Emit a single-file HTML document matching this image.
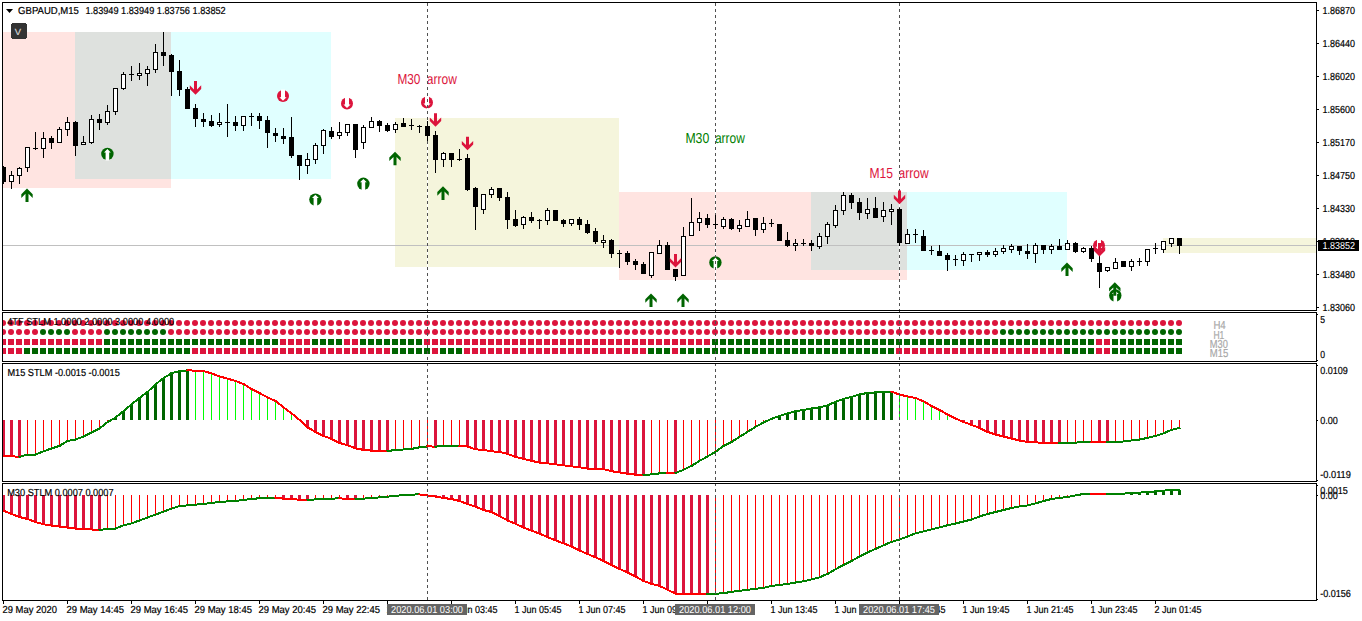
<!DOCTYPE html>
<html><head><meta charset="utf-8"><style>
html,body{margin:0;padding:0;background:#fff;width:1362px;height:621px;overflow:hidden}
svg{display:block}
text{font-family:"Liberation Sans", sans-serif;text-rendering:geometricPrecision}
rect,line{shape-rendering:crispEdges}
</style></head><body>
<svg width="1362" height="621" viewBox="0 0 1362 621" font-family='"Liberation Sans", sans-serif'><defs><clipPath id="mc"><rect x="3" y="3" width="1313" height="307"/></clipPath></defs>
<g clip-path="url(#mc)">
<rect x="3" y="32" width="168" height="156" fill="#FFE4E1"/>
<rect x="75" y="32" width="96" height="147" fill="#DEE1DE"/>
<rect x="171" y="32" width="160" height="147" fill="#E0FFFF"/>
<rect x="395" y="118" width="224" height="149" fill="#F5F5DC"/>
<rect x="619" y="192" width="288" height="88" fill="#FFE4E1"/>
<rect x="811" y="192" width="96" height="78" fill="#DEE1DE"/>
<rect x="907" y="192" width="160" height="78" fill="#E0FFFF"/>
<rect x="1163" y="238" width="153" height="15" fill="#F5F5DC"/>
<rect x="3" y="245" width="1313" height="1" fill="#C0C0C0"/>
<text x="397.40" y="84" font-size="14.5" fill="#DC143C" textLength="23.00" lengthAdjust="spacingAndGlyphs">M30</text>
<text x="426.80" y="84" font-size="14.5" fill="#DC143C" textLength="30.07" lengthAdjust="spacingAndGlyphs">arrow</text>
<text x="685.40" y="143" font-size="14.5" fill="#008000" textLength="23.90" lengthAdjust="spacingAndGlyphs">M30</text>
<text x="714.90" y="143" font-size="14.5" fill="#008000" textLength="29.97" lengthAdjust="spacingAndGlyphs">arrow</text>
<text x="869.50" y="178" font-size="14.5" fill="#DC143C" textLength="23.50" lengthAdjust="spacingAndGlyphs">M15</text>
<text x="898.60" y="178" font-size="14.5" fill="#DC143C" textLength="30.17" lengthAdjust="spacingAndGlyphs">arrow</text>
<circle cx="107.4" cy="153.9" r="6.2" fill="#006400" shape-rendering="auto"/>
<polygon points="107.4,149.1 110.8,152.4 109.2,152.4 109.2,160.5 105.6,160.5 105.6,152.4 104.0,152.4" fill="#fff" shape-rendering="auto"/>
<circle cx="315.4" cy="199.6" r="6.2" fill="#006400" shape-rendering="auto"/>
<polygon points="315.4,194.8 318.8,198.1 317.2,198.1 317.2,206.2 313.6,206.2 313.6,198.1 312.0,198.1" fill="#fff" shape-rendering="auto"/>
<circle cx="363.4" cy="183.8" r="6.2" fill="#006400" shape-rendering="auto"/>
<polygon points="363.4,179.0 366.8,182.3 365.2,182.3 365.2,190.4 361.6,190.4 361.6,182.3 360.0,182.3" fill="#fff" shape-rendering="auto"/>
<circle cx="715.4" cy="262.5" r="6.2" fill="#006400" shape-rendering="auto"/>
<polygon points="715.4,257.7 718.8,261.0 717.2,261.0 717.2,269.1 713.6,269.1 713.6,261.0 712.0,261.0" fill="#fff" shape-rendering="auto"/>
<circle cx="283.0" cy="96.1" r="6.0" fill="#DC143C" shape-rendering="auto"/>
<polygon points="283.0,100.8 286.6,97.3 285.0,97.3 285.0,89.6 281.0,89.6 281.0,97.3 279.4,97.3" fill="#fff" shape-rendering="auto"/>
<circle cx="347.0" cy="103.4" r="6.0" fill="#DC143C" shape-rendering="auto"/>
<polygon points="347.0,108.1 350.6,104.6 349.0,104.6 349.0,96.9 345.0,96.9 345.0,104.6 343.4,104.6" fill="#fff" shape-rendering="auto"/>
<circle cx="427.0" cy="102.4" r="6.0" fill="#DC143C" shape-rendering="auto"/>
<polygon points="427.0,107.1 430.6,103.6 429.0,103.6 429.0,95.9 425.0,95.9 425.0,103.6 423.4,103.6" fill="#fff" shape-rendering="auto"/>
<rect x="427" y="3" width="1" height="307" fill="#fff"/>
<line x1="427.5" y1="3" x2="427.5" y2="310" stroke="#505050" stroke-width="1" stroke-dasharray="3 3"/>
<rect x="715" y="3" width="1" height="307" fill="#fff"/>
<line x1="715.5" y1="3" x2="715.5" y2="310" stroke="#505050" stroke-width="1" stroke-dasharray="3 3"/>
<rect x="899" y="3" width="1" height="307" fill="#fff"/>
<line x1="899.5" y1="3" x2="899.5" y2="310" stroke="#505050" stroke-width="1" stroke-dasharray="3 3"/>
<rect x="3" y="166" width="1" height="18" fill="#000"/>
<rect x="1" y="167" width="5" height="15" fill="#000"/>
<rect x="11" y="171" width="1" height="18" fill="#000"/>
<rect x="9" y="175" width="5" height="7" fill="#000"/>
<rect x="10" y="176" width="3" height="5" fill="#fff"/>
<rect x="19" y="167" width="1" height="17" fill="#000"/>
<rect x="17" y="168" width="5" height="8" fill="#000"/>
<rect x="18" y="169" width="3" height="6" fill="#fff"/>
<rect x="27" y="147" width="1" height="25" fill="#000"/>
<rect x="25" y="147" width="5" height="21" fill="#000"/>
<rect x="26" y="148" width="3" height="19" fill="#fff"/>
<rect x="35" y="132" width="1" height="18" fill="#000"/>
<rect x="33" y="148" width="5" height="1" fill="#000"/>
<rect x="43" y="132" width="1" height="26" fill="#000"/>
<rect x="41" y="138" width="5" height="11" fill="#000"/>
<rect x="42" y="139" width="3" height="9" fill="#fff"/>
<rect x="51" y="136" width="1" height="13" fill="#000"/>
<rect x="49" y="138" width="5" height="5" fill="#000"/>
<rect x="59" y="127" width="1" height="16" fill="#000"/>
<rect x="57" y="129" width="5" height="14" fill="#000"/>
<rect x="58" y="130" width="3" height="12" fill="#fff"/>
<rect x="67" y="117" width="1" height="19" fill="#000"/>
<rect x="65" y="122" width="5" height="8" fill="#000"/>
<rect x="66" y="123" width="3" height="6" fill="#fff"/>
<rect x="75" y="121" width="1" height="35" fill="#000"/>
<rect x="73" y="122" width="5" height="24" fill="#000"/>
<rect x="83" y="136" width="1" height="9" fill="#000"/>
<rect x="81" y="142" width="5" height="3" fill="#000"/>
<rect x="82" y="143" width="3" height="1" fill="#fff"/>
<rect x="91" y="115" width="1" height="29" fill="#000"/>
<rect x="89" y="119" width="5" height="24" fill="#000"/>
<rect x="90" y="120" width="3" height="22" fill="#fff"/>
<rect x="99" y="114" width="1" height="16" fill="#000"/>
<rect x="97" y="119" width="5" height="4" fill="#000"/>
<rect x="107" y="105" width="1" height="20" fill="#000"/>
<rect x="105" y="111" width="5" height="12" fill="#000"/>
<rect x="106" y="112" width="3" height="10" fill="#fff"/>
<rect x="115" y="88" width="1" height="27" fill="#000"/>
<rect x="113" y="88" width="5" height="24" fill="#000"/>
<rect x="114" y="89" width="3" height="22" fill="#fff"/>
<rect x="123" y="72" width="1" height="18" fill="#000"/>
<rect x="121" y="74" width="5" height="15" fill="#000"/>
<rect x="122" y="75" width="3" height="13" fill="#fff"/>
<rect x="131" y="66" width="1" height="15" fill="#000"/>
<rect x="129" y="74" width="5" height="1" fill="#000"/>
<rect x="139" y="63" width="1" height="17" fill="#000"/>
<rect x="137" y="73" width="5" height="3" fill="#000"/>
<rect x="138" y="74" width="3" height="1" fill="#fff"/>
<rect x="147" y="66" width="1" height="20" fill="#000"/>
<rect x="145" y="69" width="5" height="5" fill="#000"/>
<rect x="146" y="70" width="3" height="3" fill="#fff"/>
<rect x="155" y="44" width="1" height="29" fill="#000"/>
<rect x="153" y="52" width="5" height="18" fill="#000"/>
<rect x="154" y="53" width="3" height="16" fill="#fff"/>
<rect x="163" y="32" width="1" height="34" fill="#000"/>
<rect x="161" y="52" width="5" height="4" fill="#000"/>
<rect x="171" y="54" width="1" height="42" fill="#000"/>
<rect x="169" y="55" width="5" height="17" fill="#000"/>
<rect x="179" y="60" width="1" height="36" fill="#000"/>
<rect x="177" y="71" width="5" height="19" fill="#000"/>
<rect x="187" y="87" width="1" height="22" fill="#000"/>
<rect x="185" y="89" width="5" height="20" fill="#000"/>
<rect x="195" y="104" width="1" height="23" fill="#000"/>
<rect x="193" y="108" width="5" height="11" fill="#000"/>
<rect x="203" y="113" width="1" height="14" fill="#000"/>
<rect x="201" y="119" width="5" height="3" fill="#000"/>
<rect x="211" y="115" width="1" height="12" fill="#000"/>
<rect x="209" y="121" width="5" height="5" fill="#000"/>
<rect x="219" y="113" width="1" height="14" fill="#000"/>
<rect x="217" y="122" width="5" height="3" fill="#000"/>
<rect x="218" y="123" width="3" height="1" fill="#fff"/>
<rect x="227" y="104" width="1" height="33" fill="#000"/>
<rect x="225" y="122" width="5" height="1" fill="#000"/>
<rect x="235" y="116" width="1" height="15" fill="#000"/>
<rect x="233" y="122" width="5" height="4" fill="#000"/>
<rect x="243" y="116" width="1" height="15" fill="#000"/>
<rect x="241" y="116" width="5" height="10" fill="#000"/>
<rect x="242" y="117" width="3" height="8" fill="#fff"/>
<rect x="251" y="113" width="1" height="13" fill="#000"/>
<rect x="249" y="116" width="5" height="1" fill="#000"/>
<rect x="259" y="113" width="1" height="16" fill="#000"/>
<rect x="257" y="116" width="5" height="5" fill="#000"/>
<rect x="267" y="116" width="1" height="32" fill="#000"/>
<rect x="265" y="120" width="5" height="13" fill="#000"/>
<rect x="275" y="128" width="1" height="14" fill="#000"/>
<rect x="273" y="133" width="5" height="3" fill="#000"/>
<rect x="283" y="128" width="1" height="16" fill="#000"/>
<rect x="281" y="136" width="5" height="3" fill="#000"/>
<rect x="291" y="117" width="1" height="41" fill="#000"/>
<rect x="289" y="137" width="5" height="19" fill="#000"/>
<rect x="299" y="155" width="1" height="25" fill="#000"/>
<rect x="297" y="155" width="5" height="11" fill="#000"/>
<rect x="307" y="153" width="1" height="21" fill="#000"/>
<rect x="305" y="159" width="5" height="7" fill="#000"/>
<rect x="306" y="160" width="3" height="5" fill="#fff"/>
<rect x="315" y="143" width="1" height="21" fill="#000"/>
<rect x="313" y="145" width="5" height="15" fill="#000"/>
<rect x="314" y="146" width="3" height="13" fill="#fff"/>
<rect x="323" y="129" width="1" height="25" fill="#000"/>
<rect x="321" y="130" width="5" height="16" fill="#000"/>
<rect x="322" y="131" width="3" height="14" fill="#fff"/>
<rect x="331" y="127" width="1" height="12" fill="#000"/>
<rect x="329" y="131" width="5" height="6" fill="#000"/>
<rect x="339" y="122" width="1" height="17" fill="#000"/>
<rect x="337" y="132" width="5" height="4" fill="#000"/>
<rect x="338" y="133" width="3" height="2" fill="#fff"/>
<rect x="347" y="124" width="1" height="12" fill="#000"/>
<rect x="345" y="124" width="5" height="9" fill="#000"/>
<rect x="346" y="125" width="3" height="7" fill="#fff"/>
<rect x="355" y="124" width="1" height="34" fill="#000"/>
<rect x="353" y="124" width="5" height="26" fill="#000"/>
<rect x="363" y="125" width="1" height="24" fill="#000"/>
<rect x="361" y="127" width="5" height="16" fill="#000"/>
<rect x="362" y="128" width="3" height="14" fill="#fff"/>
<rect x="371" y="117" width="1" height="11" fill="#000"/>
<rect x="369" y="121" width="5" height="7" fill="#000"/>
<rect x="370" y="122" width="3" height="5" fill="#fff"/>
<rect x="379" y="120" width="1" height="12" fill="#000"/>
<rect x="377" y="121" width="5" height="5" fill="#000"/>
<rect x="387" y="123" width="1" height="9" fill="#000"/>
<rect x="385" y="125" width="5" height="6" fill="#000"/>
<rect x="395" y="122" width="1" height="11" fill="#000"/>
<rect x="393" y="124" width="5" height="6" fill="#000"/>
<rect x="394" y="125" width="3" height="4" fill="#fff"/>
<rect x="403" y="118" width="1" height="9" fill="#000"/>
<rect x="401" y="123" width="5" height="4" fill="#000"/>
<rect x="411" y="119" width="1" height="11" fill="#000"/>
<rect x="409" y="125" width="5" height="1" fill="#000"/>
<rect x="419" y="125" width="1" height="8" fill="#000"/>
<rect x="417" y="126" width="5" height="1" fill="#000"/>
<rect x="427" y="121" width="1" height="20" fill="#000"/>
<rect x="425" y="126" width="5" height="10" fill="#000"/>
<rect x="435" y="131" width="1" height="42" fill="#000"/>
<rect x="433" y="135" width="5" height="25" fill="#000"/>
<rect x="443" y="152" width="1" height="15" fill="#000"/>
<rect x="441" y="153" width="5" height="7" fill="#000"/>
<rect x="442" y="154" width="3" height="5" fill="#fff"/>
<rect x="451" y="153" width="1" height="14" fill="#000"/>
<rect x="449" y="153" width="5" height="7" fill="#000"/>
<rect x="459" y="149" width="1" height="12" fill="#000"/>
<rect x="457" y="159" width="5" height="1" fill="#000"/>
<rect x="467" y="154" width="1" height="37" fill="#000"/>
<rect x="465" y="158" width="5" height="32" fill="#000"/>
<rect x="475" y="187" width="1" height="43" fill="#000"/>
<rect x="473" y="188" width="5" height="19" fill="#000"/>
<rect x="483" y="194" width="1" height="20" fill="#000"/>
<rect x="481" y="194" width="5" height="16" fill="#000"/>
<rect x="482" y="195" width="3" height="14" fill="#fff"/>
<rect x="491" y="187" width="1" height="11" fill="#000"/>
<rect x="489" y="189" width="5" height="6" fill="#000"/>
<rect x="490" y="190" width="3" height="4" fill="#fff"/>
<rect x="499" y="188" width="1" height="13" fill="#000"/>
<rect x="497" y="188" width="5" height="10" fill="#000"/>
<rect x="507" y="192" width="1" height="37" fill="#000"/>
<rect x="505" y="197" width="5" height="23" fill="#000"/>
<rect x="515" y="210" width="1" height="17" fill="#000"/>
<rect x="513" y="219" width="5" height="7" fill="#000"/>
<rect x="523" y="216" width="1" height="13" fill="#000"/>
<rect x="521" y="217" width="5" height="8" fill="#000"/>
<rect x="522" y="218" width="3" height="6" fill="#fff"/>
<rect x="531" y="212" width="1" height="11" fill="#000"/>
<rect x="529" y="217" width="5" height="4" fill="#000"/>
<rect x="539" y="219" width="1" height="10" fill="#000"/>
<rect x="537" y="220" width="5" height="1" fill="#000"/>
<rect x="547" y="208" width="1" height="17" fill="#000"/>
<rect x="545" y="210" width="5" height="11" fill="#000"/>
<rect x="546" y="211" width="3" height="9" fill="#fff"/>
<rect x="555" y="210" width="1" height="11" fill="#000"/>
<rect x="553" y="210" width="5" height="11" fill="#000"/>
<rect x="563" y="219" width="1" height="8" fill="#000"/>
<rect x="561" y="220" width="5" height="4" fill="#000"/>
<rect x="571" y="219" width="1" height="7" fill="#000"/>
<rect x="569" y="219" width="5" height="5" fill="#000"/>
<rect x="570" y="220" width="3" height="3" fill="#fff"/>
<rect x="579" y="217" width="1" height="13" fill="#000"/>
<rect x="577" y="219" width="5" height="6" fill="#000"/>
<rect x="587" y="220" width="1" height="14" fill="#000"/>
<rect x="585" y="224" width="5" height="9" fill="#000"/>
<rect x="595" y="228" width="1" height="16" fill="#000"/>
<rect x="593" y="231" width="5" height="11" fill="#000"/>
<rect x="603" y="235" width="1" height="13" fill="#000"/>
<rect x="601" y="240" width="5" height="3" fill="#000"/>
<rect x="602" y="241" width="3" height="1" fill="#fff"/>
<rect x="611" y="239" width="1" height="19" fill="#000"/>
<rect x="609" y="240" width="5" height="14" fill="#000"/>
<rect x="619" y="250" width="1" height="18" fill="#000"/>
<rect x="617" y="253" width="5" height="1" fill="#000"/>
<rect x="627" y="251" width="1" height="14" fill="#000"/>
<rect x="625" y="253" width="5" height="9" fill="#000"/>
<rect x="635" y="259" width="1" height="11" fill="#000"/>
<rect x="633" y="261" width="5" height="4" fill="#000"/>
<rect x="643" y="262" width="1" height="12" fill="#000"/>
<rect x="641" y="264" width="5" height="10" fill="#000"/>
<rect x="651" y="252" width="1" height="26" fill="#000"/>
<rect x="649" y="252" width="5" height="24" fill="#000"/>
<rect x="650" y="253" width="3" height="22" fill="#fff"/>
<rect x="659" y="240" width="1" height="14" fill="#000"/>
<rect x="657" y="245" width="5" height="9" fill="#000"/>
<rect x="658" y="246" width="3" height="7" fill="#fff"/>
<rect x="667" y="242" width="1" height="28" fill="#000"/>
<rect x="665" y="245" width="5" height="25" fill="#000"/>
<rect x="675" y="269" width="1" height="12" fill="#000"/>
<rect x="673" y="269" width="5" height="8" fill="#000"/>
<rect x="683" y="227" width="1" height="49" fill="#000"/>
<rect x="681" y="236" width="5" height="40" fill="#000"/>
<rect x="682" y="237" width="3" height="38" fill="#fff"/>
<rect x="691" y="198" width="1" height="38" fill="#000"/>
<rect x="689" y="222" width="5" height="14" fill="#000"/>
<rect x="690" y="223" width="3" height="12" fill="#fff"/>
<rect x="699" y="212" width="1" height="19" fill="#000"/>
<rect x="697" y="218" width="5" height="5" fill="#000"/>
<rect x="698" y="219" width="3" height="3" fill="#fff"/>
<rect x="707" y="214" width="1" height="14" fill="#000"/>
<rect x="705" y="218" width="5" height="7" fill="#000"/>
<rect x="715" y="215" width="1" height="14" fill="#000"/>
<rect x="713" y="224" width="5" height="1" fill="#000"/>
<rect x="723" y="217" width="1" height="12" fill="#000"/>
<rect x="721" y="219" width="5" height="8" fill="#000"/>
<rect x="722" y="220" width="3" height="6" fill="#fff"/>
<rect x="731" y="218" width="1" height="12" fill="#000"/>
<rect x="729" y="219" width="5" height="10" fill="#000"/>
<rect x="739" y="220" width="1" height="12" fill="#000"/>
<rect x="737" y="225" width="5" height="4" fill="#000"/>
<rect x="738" y="226" width="3" height="2" fill="#fff"/>
<rect x="747" y="211" width="1" height="16" fill="#000"/>
<rect x="745" y="219" width="5" height="8" fill="#000"/>
<rect x="746" y="220" width="3" height="6" fill="#fff"/>
<rect x="755" y="218" width="1" height="18" fill="#000"/>
<rect x="753" y="218" width="5" height="12" fill="#000"/>
<rect x="763" y="217" width="1" height="16" fill="#000"/>
<rect x="761" y="223" width="5" height="7" fill="#000"/>
<rect x="762" y="224" width="3" height="5" fill="#fff"/>
<rect x="771" y="219" width="1" height="8" fill="#000"/>
<rect x="769" y="223" width="5" height="1" fill="#000"/>
<rect x="779" y="224" width="1" height="17" fill="#000"/>
<rect x="777" y="224" width="5" height="17" fill="#000"/>
<rect x="787" y="232" width="1" height="15" fill="#000"/>
<rect x="785" y="240" width="5" height="6" fill="#000"/>
<rect x="795" y="239" width="1" height="12" fill="#000"/>
<rect x="793" y="243" width="5" height="3" fill="#000"/>
<rect x="794" y="244" width="3" height="1" fill="#fff"/>
<rect x="803" y="239" width="1" height="7" fill="#000"/>
<rect x="801" y="243" width="5" height="1" fill="#000"/>
<rect x="811" y="240" width="1" height="11" fill="#000"/>
<rect x="809" y="243" width="5" height="3" fill="#000"/>
<rect x="819" y="233" width="1" height="16" fill="#000"/>
<rect x="817" y="236" width="5" height="11" fill="#000"/>
<rect x="818" y="237" width="3" height="9" fill="#fff"/>
<rect x="827" y="222" width="1" height="22" fill="#000"/>
<rect x="825" y="224" width="5" height="13" fill="#000"/>
<rect x="826" y="225" width="3" height="11" fill="#fff"/>
<rect x="835" y="205" width="1" height="23" fill="#000"/>
<rect x="833" y="210" width="5" height="16" fill="#000"/>
<rect x="834" y="211" width="3" height="14" fill="#fff"/>
<rect x="843" y="192" width="1" height="23" fill="#000"/>
<rect x="841" y="195" width="5" height="16" fill="#000"/>
<rect x="842" y="196" width="3" height="14" fill="#fff"/>
<rect x="851" y="193" width="1" height="16" fill="#000"/>
<rect x="849" y="195" width="5" height="8" fill="#000"/>
<rect x="859" y="198" width="1" height="22" fill="#000"/>
<rect x="857" y="202" width="5" height="11" fill="#000"/>
<rect x="867" y="198" width="1" height="21" fill="#000"/>
<rect x="865" y="209" width="5" height="5" fill="#000"/>
<rect x="866" y="210" width="3" height="3" fill="#fff"/>
<rect x="875" y="197" width="1" height="21" fill="#000"/>
<rect x="873" y="208" width="5" height="10" fill="#000"/>
<rect x="883" y="202" width="1" height="20" fill="#000"/>
<rect x="881" y="210" width="5" height="7" fill="#000"/>
<rect x="882" y="211" width="3" height="5" fill="#fff"/>
<rect x="891" y="204" width="1" height="21" fill="#000"/>
<rect x="889" y="209" width="5" height="3" fill="#000"/>
<rect x="890" y="210" width="3" height="1" fill="#fff"/>
<rect x="899" y="208" width="1" height="38" fill="#000"/>
<rect x="897" y="209" width="5" height="34" fill="#000"/>
<rect x="907" y="229" width="1" height="15" fill="#000"/>
<rect x="905" y="234" width="5" height="10" fill="#000"/>
<rect x="906" y="235" width="3" height="8" fill="#fff"/>
<rect x="915" y="229" width="1" height="14" fill="#000"/>
<rect x="913" y="234" width="5" height="1" fill="#000"/>
<rect x="923" y="230" width="1" height="21" fill="#000"/>
<rect x="921" y="236" width="5" height="15" fill="#000"/>
<rect x="931" y="246" width="1" height="9" fill="#000"/>
<rect x="929" y="250" width="5" height="1" fill="#000"/>
<rect x="939" y="245" width="1" height="11" fill="#000"/>
<rect x="937" y="251" width="5" height="5" fill="#000"/>
<rect x="947" y="253" width="1" height="18" fill="#000"/>
<rect x="945" y="255" width="5" height="5" fill="#000"/>
<rect x="955" y="255" width="1" height="11" fill="#000"/>
<rect x="953" y="259" width="5" height="1" fill="#000"/>
<rect x="963" y="252" width="1" height="14" fill="#000"/>
<rect x="961" y="254" width="5" height="7" fill="#000"/>
<rect x="962" y="255" width="3" height="5" fill="#fff"/>
<rect x="971" y="254" width="1" height="8" fill="#000"/>
<rect x="969" y="254" width="5" height="1" fill="#000"/>
<rect x="979" y="252" width="1" height="9" fill="#000"/>
<rect x="977" y="252" width="5" height="3" fill="#000"/>
<rect x="978" y="253" width="3" height="1" fill="#fff"/>
<rect x="987" y="250" width="1" height="7" fill="#000"/>
<rect x="985" y="252" width="5" height="3" fill="#000"/>
<rect x="995" y="248" width="1" height="9" fill="#000"/>
<rect x="993" y="251" width="5" height="4" fill="#000"/>
<rect x="994" y="252" width="3" height="2" fill="#fff"/>
<rect x="1003" y="245" width="1" height="9" fill="#000"/>
<rect x="1001" y="248" width="5" height="4" fill="#000"/>
<rect x="1002" y="249" width="3" height="2" fill="#fff"/>
<rect x="1011" y="244" width="1" height="9" fill="#000"/>
<rect x="1009" y="246" width="5" height="4" fill="#000"/>
<rect x="1010" y="247" width="3" height="2" fill="#fff"/>
<rect x="1019" y="246" width="1" height="9" fill="#000"/>
<rect x="1017" y="246" width="5" height="5" fill="#000"/>
<rect x="1027" y="244" width="1" height="15" fill="#000"/>
<rect x="1025" y="251" width="5" height="3" fill="#000"/>
<rect x="1035" y="243" width="1" height="20" fill="#000"/>
<rect x="1033" y="245" width="5" height="9" fill="#000"/>
<rect x="1034" y="246" width="3" height="7" fill="#fff"/>
<rect x="1043" y="245" width="1" height="9" fill="#000"/>
<rect x="1041" y="245" width="5" height="5" fill="#000"/>
<rect x="1051" y="244" width="1" height="10" fill="#000"/>
<rect x="1049" y="246" width="5" height="4" fill="#000"/>
<rect x="1050" y="247" width="3" height="2" fill="#fff"/>
<rect x="1059" y="239" width="1" height="11" fill="#000"/>
<rect x="1057" y="246" width="5" height="4" fill="#000"/>
<rect x="1067" y="240" width="1" height="10" fill="#000"/>
<rect x="1065" y="243" width="5" height="7" fill="#000"/>
<rect x="1066" y="244" width="3" height="5" fill="#fff"/>
<rect x="1075" y="242" width="1" height="11" fill="#000"/>
<rect x="1073" y="243" width="5" height="9" fill="#000"/>
<rect x="1083" y="247" width="1" height="6" fill="#000"/>
<rect x="1081" y="248" width="5" height="4" fill="#000"/>
<rect x="1082" y="249" width="3" height="2" fill="#fff"/>
<rect x="1091" y="246" width="1" height="16" fill="#000"/>
<rect x="1089" y="248" width="5" height="11" fill="#000"/>
<rect x="1099" y="255" width="1" height="33" fill="#000"/>
<rect x="1097" y="263" width="5" height="9" fill="#000"/>
<rect x="1107" y="267" width="1" height="5" fill="#000"/>
<rect x="1105" y="267" width="5" height="4" fill="#000"/>
<rect x="1106" y="268" width="3" height="2" fill="#fff"/>
<rect x="1115" y="258" width="1" height="11" fill="#000"/>
<rect x="1113" y="262" width="5" height="7" fill="#000"/>
<rect x="1114" y="263" width="3" height="5" fill="#fff"/>
<rect x="1123" y="261" width="1" height="6" fill="#000"/>
<rect x="1121" y="261" width="5" height="6" fill="#000"/>
<rect x="1131" y="259" width="1" height="12" fill="#000"/>
<rect x="1129" y="261" width="5" height="6" fill="#000"/>
<rect x="1130" y="262" width="3" height="4" fill="#fff"/>
<rect x="1139" y="258" width="1" height="8" fill="#000"/>
<rect x="1137" y="261" width="5" height="1" fill="#000"/>
<rect x="1147" y="249" width="1" height="17" fill="#000"/>
<rect x="1145" y="249" width="5" height="13" fill="#000"/>
<rect x="1146" y="250" width="3" height="11" fill="#fff"/>
<rect x="1155" y="243" width="1" height="11" fill="#000"/>
<rect x="1153" y="248" width="5" height="1" fill="#000"/>
<rect x="1163" y="241" width="1" height="12" fill="#000"/>
<rect x="1161" y="241" width="5" height="9" fill="#000"/>
<rect x="1162" y="242" width="3" height="7" fill="#fff"/>
<rect x="1171" y="238" width="1" height="9" fill="#000"/>
<rect x="1169" y="238" width="5" height="6" fill="#000"/>
<rect x="1170" y="239" width="3" height="4" fill="#fff"/>
<rect x="1179" y="238" width="1" height="16" fill="#000"/>
<rect x="1177" y="238" width="5" height="8" fill="#000"/>
<polygon points="27.0,188.5 32.7,194.3 32.7,197.9 28.5,193.7 28.5,202.1 25.5,202.1 25.5,193.7 21.3,197.9 21.3,194.3" fill="#006400" shape-rendering="auto"/>
<polygon points="395.0,151.7 400.7,157.5 400.7,161.1 396.5,156.9 396.5,165.3 393.5,165.3 393.5,156.9 389.3,161.1 389.3,157.5" fill="#006400" shape-rendering="auto"/>
<polygon points="443.0,186.3 448.7,192.1 448.7,195.7 444.5,191.5 444.5,199.9 441.5,199.9 441.5,191.5 437.3,195.7 437.3,192.1" fill="#006400" shape-rendering="auto"/>
<polygon points="651.0,293.4 656.7,299.2 656.7,302.8 652.5,298.6 652.5,307.0 649.5,307.0 649.5,298.6 645.3,302.8 645.3,299.2" fill="#006400" shape-rendering="auto"/>
<polygon points="683.0,293.4 688.7,299.2 688.7,302.8 684.5,298.6 684.5,307.0 681.5,307.0 681.5,298.6 677.3,302.8 677.3,299.2" fill="#006400" shape-rendering="auto"/>
<polygon points="1067.0,262.5 1072.7,268.3 1072.7,271.9 1068.5,267.7 1068.5,276.1 1065.5,276.1 1065.5,267.7 1061.3,271.9 1061.3,268.3" fill="#006400" shape-rendering="auto"/>
<circle cx="1115.3" cy="295.5" r="6.2" fill="#006400" shape-rendering="auto"/>
<polygon points="1115.3,290.7 1118.7,294.0 1117.1,294.0 1117.1,302.1 1113.5,302.1 1113.5,294.0 1111.9,294.0" fill="#fff" shape-rendering="auto"/>
<polygon points="1114.8,282.2 1120.5,288.0 1120.5,291.6 1116.3,287.4 1116.3,295.8 1113.3,295.8 1113.3,287.4 1109.1,291.6 1109.1,288.0" fill="#006400" shape-rendering="auto"/>
<circle cx="1099" cy="245.5" r="6.0" fill="#DC143C" shape-rendering="auto"/>
<polygon points="1099.0,250.2 1102.6,246.7 1101.0,246.7 1101.0,239.0 1097.0,239.0 1097.0,246.7 1095.4,246.7" fill="#fff" shape-rendering="auto"/>
<polygon points="195.5,94.7 201.2,88.9 201.2,85.3 197.0,89.5 197.0,81.1 194.0,81.1 194.0,89.5 189.8,85.3 189.8,88.9" fill="#DC143C" shape-rendering="auto"/>
<polygon points="435.5,126.8 441.2,121.0 441.2,117.4 437.0,121.6 437.0,113.2 434.0,113.2 434.0,121.6 429.8,117.4 429.8,121.0" fill="#DC143C" shape-rendering="auto"/>
<polygon points="467.5,150.3 473.2,144.5 473.2,140.9 469.0,145.1 469.0,136.7 466.0,136.7 466.0,145.1 461.8,140.9 461.8,144.5" fill="#DC143C" shape-rendering="auto"/>
<polygon points="675.5,267.5 681.2,261.7 681.2,258.1 677.0,262.3 677.0,253.9 674.0,253.9 674.0,262.3 669.8,258.1 669.8,261.7" fill="#DC143C" shape-rendering="auto"/>
<polygon points="899.5,204.2 905.2,198.4 905.2,194.8 901.0,199.0 901.0,190.6 898.0,190.6 898.0,199.0 893.8,194.8 893.8,198.4" fill="#DC143C" shape-rendering="auto"/>
<polygon points="1099.5,256.5 1105.2,250.7 1105.2,247.1 1101.0,251.3 1101.0,242.9 1098.0,242.9 1098.0,251.3 1093.8,247.1 1093.8,250.7" fill="#DC143C" shape-rendering="auto"/>
</g>
<defs><clipPath id="c1"><rect x="3" y="313" width="1313" height="48"/></clipPath><clipPath id="c2"><rect x="3" y="364" width="1313" height="117"/></clipPath><clipPath id="c3"><rect x="3" y="484" width="1313" height="116"/></clipPath><clipPath id="sub"><rect x="0" y="311" width="1362" height="290"/></clipPath></defs>
<g clip-path="url(#c1)">
<circle cx="3" cy="323" r="3" fill="#DC143C"/>
<circle cx="11" cy="323" r="3" fill="#DC143C"/>
<circle cx="19" cy="323" r="3" fill="#DC143C"/>
<circle cx="27" cy="323" r="3" fill="#DC143C"/>
<circle cx="35" cy="323" r="3" fill="#DC143C"/>
<circle cx="43" cy="323" r="3" fill="#DC143C"/>
<circle cx="51" cy="323" r="3" fill="#DC143C"/>
<circle cx="59" cy="323" r="3" fill="#DC143C"/>
<circle cx="67" cy="323" r="3" fill="#DC143C"/>
<circle cx="75" cy="323" r="3" fill="#DC143C"/>
<circle cx="83" cy="323" r="3" fill="#DC143C"/>
<circle cx="91" cy="323" r="3" fill="#DC143C"/>
<circle cx="99" cy="323" r="3" fill="#DC143C"/>
<circle cx="107" cy="323" r="3" fill="#DC143C"/>
<circle cx="115" cy="323" r="3" fill="#DC143C"/>
<circle cx="123" cy="323" r="3" fill="#DC143C"/>
<circle cx="131" cy="323" r="3" fill="#DC143C"/>
<circle cx="139" cy="323" r="3" fill="#DC143C"/>
<circle cx="147" cy="323" r="3" fill="#DC143C"/>
<circle cx="155" cy="323" r="3" fill="#DC143C"/>
<circle cx="163" cy="323" r="3" fill="#DC143C"/>
<circle cx="171" cy="323" r="3" fill="#DC143C"/>
<circle cx="179" cy="323" r="3" fill="#DC143C"/>
<circle cx="187" cy="323" r="3" fill="#DC143C"/>
<circle cx="195" cy="323" r="3" fill="#DC143C"/>
<circle cx="203" cy="323" r="3" fill="#DC143C"/>
<circle cx="211" cy="323" r="3" fill="#DC143C"/>
<circle cx="219" cy="323" r="3" fill="#DC143C"/>
<circle cx="227" cy="323" r="3" fill="#DC143C"/>
<circle cx="235" cy="323" r="3" fill="#DC143C"/>
<circle cx="243" cy="323" r="3" fill="#DC143C"/>
<circle cx="251" cy="323" r="3" fill="#DC143C"/>
<circle cx="259" cy="323" r="3" fill="#DC143C"/>
<circle cx="267" cy="323" r="3" fill="#DC143C"/>
<circle cx="275" cy="323" r="3" fill="#DC143C"/>
<circle cx="283" cy="323" r="3" fill="#DC143C"/>
<circle cx="291" cy="323" r="3" fill="#DC143C"/>
<circle cx="299" cy="323" r="3" fill="#DC143C"/>
<circle cx="307" cy="323" r="3" fill="#DC143C"/>
<circle cx="315" cy="323" r="3" fill="#DC143C"/>
<circle cx="323" cy="323" r="3" fill="#DC143C"/>
<circle cx="331" cy="323" r="3" fill="#DC143C"/>
<circle cx="339" cy="323" r="3" fill="#DC143C"/>
<circle cx="347" cy="323" r="3" fill="#DC143C"/>
<circle cx="355" cy="323" r="3" fill="#DC143C"/>
<circle cx="363" cy="323" r="3" fill="#DC143C"/>
<circle cx="371" cy="323" r="3" fill="#DC143C"/>
<circle cx="379" cy="323" r="3" fill="#DC143C"/>
<circle cx="387" cy="323" r="3" fill="#DC143C"/>
<circle cx="395" cy="323" r="3" fill="#DC143C"/>
<circle cx="403" cy="323" r="3" fill="#DC143C"/>
<circle cx="411" cy="323" r="3" fill="#DC143C"/>
<circle cx="419" cy="323" r="3" fill="#DC143C"/>
<circle cx="427" cy="323" r="3" fill="#DC143C"/>
<circle cx="435" cy="323" r="3" fill="#DC143C"/>
<circle cx="443" cy="323" r="3" fill="#DC143C"/>
<circle cx="451" cy="323" r="3" fill="#DC143C"/>
<circle cx="459" cy="323" r="3" fill="#DC143C"/>
<circle cx="467" cy="323" r="3" fill="#DC143C"/>
<circle cx="475" cy="323" r="3" fill="#DC143C"/>
<circle cx="483" cy="323" r="3" fill="#DC143C"/>
<circle cx="491" cy="323" r="3" fill="#DC143C"/>
<circle cx="499" cy="323" r="3" fill="#DC143C"/>
<circle cx="507" cy="323" r="3" fill="#DC143C"/>
<circle cx="515" cy="323" r="3" fill="#DC143C"/>
<circle cx="523" cy="323" r="3" fill="#DC143C"/>
<circle cx="531" cy="323" r="3" fill="#DC143C"/>
<circle cx="539" cy="323" r="3" fill="#DC143C"/>
<circle cx="547" cy="323" r="3" fill="#DC143C"/>
<circle cx="555" cy="323" r="3" fill="#DC143C"/>
<circle cx="563" cy="323" r="3" fill="#DC143C"/>
<circle cx="571" cy="323" r="3" fill="#DC143C"/>
<circle cx="579" cy="323" r="3" fill="#DC143C"/>
<circle cx="587" cy="323" r="3" fill="#DC143C"/>
<circle cx="595" cy="323" r="3" fill="#DC143C"/>
<circle cx="603" cy="323" r="3" fill="#DC143C"/>
<circle cx="611" cy="323" r="3" fill="#DC143C"/>
<circle cx="619" cy="323" r="3" fill="#DC143C"/>
<circle cx="627" cy="323" r="3" fill="#DC143C"/>
<circle cx="635" cy="323" r="3" fill="#DC143C"/>
<circle cx="643" cy="323" r="3" fill="#DC143C"/>
<circle cx="651" cy="323" r="3" fill="#DC143C"/>
<circle cx="659" cy="323" r="3" fill="#DC143C"/>
<circle cx="667" cy="323" r="3" fill="#DC143C"/>
<circle cx="675" cy="323" r="3" fill="#DC143C"/>
<circle cx="683" cy="323" r="3" fill="#DC143C"/>
<circle cx="691" cy="323" r="3" fill="#DC143C"/>
<circle cx="699" cy="323" r="3" fill="#DC143C"/>
<circle cx="707" cy="323" r="3" fill="#DC143C"/>
<circle cx="715" cy="323" r="3" fill="#DC143C"/>
<circle cx="723" cy="323" r="3" fill="#DC143C"/>
<circle cx="731" cy="323" r="3" fill="#DC143C"/>
<circle cx="739" cy="323" r="3" fill="#DC143C"/>
<circle cx="747" cy="323" r="3" fill="#DC143C"/>
<circle cx="755" cy="323" r="3" fill="#DC143C"/>
<circle cx="763" cy="323" r="3" fill="#DC143C"/>
<circle cx="771" cy="323" r="3" fill="#DC143C"/>
<circle cx="779" cy="323" r="3" fill="#DC143C"/>
<circle cx="787" cy="323" r="3" fill="#DC143C"/>
<circle cx="795" cy="323" r="3" fill="#DC143C"/>
<circle cx="803" cy="323" r="3" fill="#DC143C"/>
<circle cx="811" cy="323" r="3" fill="#DC143C"/>
<circle cx="819" cy="323" r="3" fill="#DC143C"/>
<circle cx="827" cy="323" r="3" fill="#DC143C"/>
<circle cx="835" cy="323" r="3" fill="#DC143C"/>
<circle cx="843" cy="323" r="3" fill="#DC143C"/>
<circle cx="851" cy="323" r="3" fill="#DC143C"/>
<circle cx="859" cy="323" r="3" fill="#DC143C"/>
<circle cx="867" cy="323" r="3" fill="#DC143C"/>
<circle cx="875" cy="323" r="3" fill="#DC143C"/>
<circle cx="883" cy="323" r="3" fill="#DC143C"/>
<circle cx="891" cy="323" r="3" fill="#DC143C"/>
<circle cx="899" cy="323" r="3" fill="#DC143C"/>
<circle cx="907" cy="323" r="3" fill="#DC143C"/>
<circle cx="915" cy="323" r="3" fill="#DC143C"/>
<circle cx="923" cy="323" r="3" fill="#DC143C"/>
<circle cx="931" cy="323" r="3" fill="#DC143C"/>
<circle cx="939" cy="323" r="3" fill="#DC143C"/>
<circle cx="947" cy="323" r="3" fill="#DC143C"/>
<circle cx="955" cy="323" r="3" fill="#DC143C"/>
<circle cx="963" cy="323" r="3" fill="#DC143C"/>
<circle cx="971" cy="323" r="3" fill="#DC143C"/>
<circle cx="979" cy="323" r="3" fill="#DC143C"/>
<circle cx="987" cy="323" r="3" fill="#DC143C"/>
<circle cx="995" cy="323" r="3" fill="#DC143C"/>
<circle cx="1003" cy="323" r="3" fill="#DC143C"/>
<circle cx="1011" cy="323" r="3" fill="#DC143C"/>
<circle cx="1019" cy="323" r="3" fill="#DC143C"/>
<circle cx="1027" cy="323" r="3" fill="#DC143C"/>
<circle cx="1035" cy="323" r="3" fill="#DC143C"/>
<circle cx="1043" cy="323" r="3" fill="#DC143C"/>
<circle cx="1051" cy="323" r="3" fill="#DC143C"/>
<circle cx="1059" cy="323" r="3" fill="#DC143C"/>
<circle cx="1067" cy="323" r="3" fill="#DC143C"/>
<circle cx="1075" cy="323" r="3" fill="#DC143C"/>
<circle cx="1083" cy="323" r="3" fill="#DC143C"/>
<circle cx="1091" cy="323" r="3" fill="#DC143C"/>
<circle cx="1099" cy="323" r="3" fill="#DC143C"/>
<circle cx="1107" cy="323" r="3" fill="#DC143C"/>
<circle cx="1115" cy="323" r="3" fill="#DC143C"/>
<circle cx="1123" cy="323" r="3" fill="#DC143C"/>
<circle cx="1131" cy="323" r="3" fill="#DC143C"/>
<circle cx="1139" cy="323" r="3" fill="#DC143C"/>
<circle cx="1147" cy="323" r="3" fill="#DC143C"/>
<circle cx="1155" cy="323" r="3" fill="#DC143C"/>
<circle cx="1163" cy="323" r="3" fill="#DC143C"/>
<circle cx="1171" cy="323" r="3" fill="#DC143C"/>
<circle cx="1179" cy="323" r="3" fill="#DC143C"/>
<circle cx="3" cy="332" r="3" fill="#DC143C"/>
<circle cx="11" cy="332" r="3" fill="#DC143C"/>
<circle cx="19" cy="332" r="3" fill="#DC143C"/>
<circle cx="27" cy="332" r="3" fill="#DC143C"/>
<circle cx="35" cy="332" r="3" fill="#DC143C"/>
<circle cx="43" cy="332" r="3" fill="#006400"/>
<circle cx="51" cy="332" r="3" fill="#006400"/>
<circle cx="59" cy="332" r="3" fill="#006400"/>
<circle cx="67" cy="332" r="3" fill="#006400"/>
<circle cx="75" cy="332" r="3" fill="#DC143C"/>
<circle cx="83" cy="332" r="3" fill="#DC143C"/>
<circle cx="91" cy="332" r="3" fill="#DC143C"/>
<circle cx="99" cy="332" r="3" fill="#DC143C"/>
<circle cx="107" cy="332" r="3" fill="#006400"/>
<circle cx="115" cy="332" r="3" fill="#006400"/>
<circle cx="123" cy="332" r="3" fill="#006400"/>
<circle cx="131" cy="332" r="3" fill="#006400"/>
<circle cx="139" cy="332" r="3" fill="#006400"/>
<circle cx="147" cy="332" r="3" fill="#006400"/>
<circle cx="155" cy="332" r="3" fill="#006400"/>
<circle cx="163" cy="332" r="3" fill="#006400"/>
<circle cx="171" cy="332" r="3" fill="#DC143C"/>
<circle cx="179" cy="332" r="3" fill="#DC143C"/>
<circle cx="187" cy="332" r="3" fill="#DC143C"/>
<circle cx="195" cy="332" r="3" fill="#DC143C"/>
<circle cx="203" cy="332" r="3" fill="#DC143C"/>
<circle cx="211" cy="332" r="3" fill="#DC143C"/>
<circle cx="219" cy="332" r="3" fill="#DC143C"/>
<circle cx="227" cy="332" r="3" fill="#DC143C"/>
<circle cx="235" cy="332" r="3" fill="#DC143C"/>
<circle cx="243" cy="332" r="3" fill="#DC143C"/>
<circle cx="251" cy="332" r="3" fill="#DC143C"/>
<circle cx="259" cy="332" r="3" fill="#DC143C"/>
<circle cx="267" cy="332" r="3" fill="#DC143C"/>
<circle cx="275" cy="332" r="3" fill="#DC143C"/>
<circle cx="283" cy="332" r="3" fill="#DC143C"/>
<circle cx="291" cy="332" r="3" fill="#DC143C"/>
<circle cx="299" cy="332" r="3" fill="#DC143C"/>
<circle cx="307" cy="332" r="3" fill="#DC143C"/>
<circle cx="315" cy="332" r="3" fill="#DC143C"/>
<circle cx="323" cy="332" r="3" fill="#DC143C"/>
<circle cx="331" cy="332" r="3" fill="#DC143C"/>
<circle cx="339" cy="332" r="3" fill="#DC143C"/>
<circle cx="347" cy="332" r="3" fill="#DC143C"/>
<circle cx="355" cy="332" r="3" fill="#DC143C"/>
<circle cx="363" cy="332" r="3" fill="#DC143C"/>
<circle cx="371" cy="332" r="3" fill="#DC143C"/>
<circle cx="379" cy="332" r="3" fill="#DC143C"/>
<circle cx="387" cy="332" r="3" fill="#DC143C"/>
<circle cx="395" cy="332" r="3" fill="#DC143C"/>
<circle cx="403" cy="332" r="3" fill="#DC143C"/>
<circle cx="411" cy="332" r="3" fill="#DC143C"/>
<circle cx="419" cy="332" r="3" fill="#DC143C"/>
<circle cx="427" cy="332" r="3" fill="#DC143C"/>
<circle cx="435" cy="332" r="3" fill="#DC143C"/>
<circle cx="443" cy="332" r="3" fill="#DC143C"/>
<circle cx="451" cy="332" r="3" fill="#DC143C"/>
<circle cx="459" cy="332" r="3" fill="#DC143C"/>
<circle cx="467" cy="332" r="3" fill="#DC143C"/>
<circle cx="475" cy="332" r="3" fill="#DC143C"/>
<circle cx="483" cy="332" r="3" fill="#DC143C"/>
<circle cx="491" cy="332" r="3" fill="#DC143C"/>
<circle cx="499" cy="332" r="3" fill="#DC143C"/>
<circle cx="507" cy="332" r="3" fill="#DC143C"/>
<circle cx="515" cy="332" r="3" fill="#DC143C"/>
<circle cx="523" cy="332" r="3" fill="#DC143C"/>
<circle cx="531" cy="332" r="3" fill="#DC143C"/>
<circle cx="539" cy="332" r="3" fill="#DC143C"/>
<circle cx="547" cy="332" r="3" fill="#DC143C"/>
<circle cx="555" cy="332" r="3" fill="#DC143C"/>
<circle cx="563" cy="332" r="3" fill="#DC143C"/>
<circle cx="571" cy="332" r="3" fill="#DC143C"/>
<circle cx="579" cy="332" r="3" fill="#DC143C"/>
<circle cx="587" cy="332" r="3" fill="#DC143C"/>
<circle cx="595" cy="332" r="3" fill="#DC143C"/>
<circle cx="603" cy="332" r="3" fill="#DC143C"/>
<circle cx="611" cy="332" r="3" fill="#DC143C"/>
<circle cx="619" cy="332" r="3" fill="#DC143C"/>
<circle cx="627" cy="332" r="3" fill="#DC143C"/>
<circle cx="635" cy="332" r="3" fill="#DC143C"/>
<circle cx="643" cy="332" r="3" fill="#DC143C"/>
<circle cx="651" cy="332" r="3" fill="#DC143C"/>
<circle cx="659" cy="332" r="3" fill="#DC143C"/>
<circle cx="667" cy="332" r="3" fill="#DC143C"/>
<circle cx="675" cy="332" r="3" fill="#DC143C"/>
<circle cx="683" cy="332" r="3" fill="#DC143C"/>
<circle cx="691" cy="332" r="3" fill="#DC143C"/>
<circle cx="699" cy="332" r="3" fill="#DC143C"/>
<circle cx="707" cy="332" r="3" fill="#DC143C"/>
<circle cx="715" cy="332" r="3" fill="#DC143C"/>
<circle cx="723" cy="332" r="3" fill="#DC143C"/>
<circle cx="731" cy="332" r="3" fill="#DC143C"/>
<circle cx="739" cy="332" r="3" fill="#DC143C"/>
<circle cx="747" cy="332" r="3" fill="#DC143C"/>
<circle cx="755" cy="332" r="3" fill="#DC143C"/>
<circle cx="763" cy="332" r="3" fill="#DC143C"/>
<circle cx="771" cy="332" r="3" fill="#DC143C"/>
<circle cx="779" cy="332" r="3" fill="#DC143C"/>
<circle cx="787" cy="332" r="3" fill="#DC143C"/>
<circle cx="795" cy="332" r="3" fill="#DC143C"/>
<circle cx="803" cy="332" r="3" fill="#DC143C"/>
<circle cx="811" cy="332" r="3" fill="#DC143C"/>
<circle cx="819" cy="332" r="3" fill="#DC143C"/>
<circle cx="827" cy="332" r="3" fill="#DC143C"/>
<circle cx="835" cy="332" r="3" fill="#DC143C"/>
<circle cx="843" cy="332" r="3" fill="#DC143C"/>
<circle cx="851" cy="332" r="3" fill="#DC143C"/>
<circle cx="859" cy="332" r="3" fill="#DC143C"/>
<circle cx="867" cy="332" r="3" fill="#DC143C"/>
<circle cx="875" cy="332" r="3" fill="#DC143C"/>
<circle cx="883" cy="332" r="3" fill="#DC143C"/>
<circle cx="891" cy="332" r="3" fill="#DC143C"/>
<circle cx="899" cy="332" r="3" fill="#DC143C"/>
<circle cx="907" cy="332" r="3" fill="#DC143C"/>
<circle cx="915" cy="332" r="3" fill="#DC143C"/>
<circle cx="923" cy="332" r="3" fill="#DC143C"/>
<circle cx="931" cy="332" r="3" fill="#DC143C"/>
<circle cx="939" cy="332" r="3" fill="#DC143C"/>
<circle cx="947" cy="332" r="3" fill="#DC143C"/>
<circle cx="955" cy="332" r="3" fill="#DC143C"/>
<circle cx="963" cy="332" r="3" fill="#DC143C"/>
<circle cx="971" cy="332" r="3" fill="#DC143C"/>
<circle cx="979" cy="332" r="3" fill="#DC143C"/>
<circle cx="987" cy="332" r="3" fill="#DC143C"/>
<circle cx="995" cy="332" r="3" fill="#DC143C"/>
<circle cx="1003" cy="332" r="3" fill="#006400"/>
<circle cx="1011" cy="332" r="3" fill="#006400"/>
<circle cx="1019" cy="332" r="3" fill="#006400"/>
<circle cx="1027" cy="332" r="3" fill="#006400"/>
<circle cx="1035" cy="332" r="3" fill="#006400"/>
<circle cx="1043" cy="332" r="3" fill="#006400"/>
<circle cx="1051" cy="332" r="3" fill="#006400"/>
<circle cx="1059" cy="332" r="3" fill="#006400"/>
<circle cx="1067" cy="332" r="3" fill="#006400"/>
<circle cx="1075" cy="332" r="3" fill="#006400"/>
<circle cx="1083" cy="332" r="3" fill="#006400"/>
<circle cx="1091" cy="332" r="3" fill="#006400"/>
<circle cx="1099" cy="332" r="3" fill="#006400"/>
<circle cx="1107" cy="332" r="3" fill="#006400"/>
<circle cx="1115" cy="332" r="3" fill="#006400"/>
<circle cx="1123" cy="332" r="3" fill="#006400"/>
<circle cx="1131" cy="332" r="3" fill="#006400"/>
<circle cx="1139" cy="332" r="3" fill="#006400"/>
<circle cx="1147" cy="332" r="3" fill="#006400"/>
<circle cx="1155" cy="332" r="3" fill="#006400"/>
<circle cx="1163" cy="332" r="3" fill="#006400"/>
<circle cx="1171" cy="332" r="3" fill="#006400"/>
<circle cx="1179" cy="332" r="3" fill="#006400"/>
<rect x="0" y="339" width="6" height="6" fill="#DC143C"/>
<rect x="8" y="339" width="6" height="6" fill="#DC143C"/>
<rect x="16" y="339" width="6" height="6" fill="#DC143C"/>
<rect x="24" y="339" width="6" height="6" fill="#DC143C"/>
<rect x="32" y="339" width="6" height="6" fill="#DC143C"/>
<rect x="40" y="339" width="6" height="6" fill="#DC143C"/>
<rect x="48" y="339" width="6" height="6" fill="#DC143C"/>
<rect x="56" y="339" width="6" height="6" fill="#DC143C"/>
<rect x="64" y="339" width="6" height="6" fill="#DC143C"/>
<rect x="72" y="339" width="6" height="6" fill="#DC143C"/>
<rect x="80" y="339" width="6" height="6" fill="#DC143C"/>
<rect x="88" y="339" width="6" height="6" fill="#DC143C"/>
<rect x="96" y="339" width="6" height="6" fill="#DC143C"/>
<rect x="104" y="339" width="6" height="6" fill="#006400"/>
<rect x="112" y="339" width="6" height="6" fill="#006400"/>
<rect x="120" y="339" width="6" height="6" fill="#006400"/>
<rect x="128" y="339" width="6" height="6" fill="#006400"/>
<rect x="136" y="339" width="6" height="6" fill="#006400"/>
<rect x="144" y="339" width="6" height="6" fill="#006400"/>
<rect x="152" y="339" width="6" height="6" fill="#006400"/>
<rect x="160" y="339" width="6" height="6" fill="#006400"/>
<rect x="168" y="339" width="6" height="6" fill="#006400"/>
<rect x="176" y="339" width="6" height="6" fill="#006400"/>
<rect x="184" y="339" width="6" height="6" fill="#006400"/>
<rect x="192" y="339" width="6" height="6" fill="#006400"/>
<rect x="200" y="339" width="6" height="6" fill="#006400"/>
<rect x="208" y="339" width="6" height="6" fill="#006400"/>
<rect x="216" y="339" width="6" height="6" fill="#006400"/>
<rect x="224" y="339" width="6" height="6" fill="#006400"/>
<rect x="232" y="339" width="6" height="6" fill="#006400"/>
<rect x="240" y="339" width="6" height="6" fill="#006400"/>
<rect x="248" y="339" width="6" height="6" fill="#006400"/>
<rect x="256" y="339" width="6" height="6" fill="#006400"/>
<rect x="264" y="339" width="6" height="6" fill="#006400"/>
<rect x="272" y="339" width="6" height="6" fill="#006400"/>
<rect x="280" y="339" width="6" height="6" fill="#DC143C"/>
<rect x="288" y="339" width="6" height="6" fill="#DC143C"/>
<rect x="296" y="339" width="6" height="6" fill="#DC143C"/>
<rect x="304" y="339" width="6" height="6" fill="#DC143C"/>
<rect x="312" y="339" width="6" height="6" fill="#006400"/>
<rect x="320" y="339" width="6" height="6" fill="#006400"/>
<rect x="328" y="339" width="6" height="6" fill="#006400"/>
<rect x="336" y="339" width="6" height="6" fill="#006400"/>
<rect x="344" y="339" width="6" height="6" fill="#DC143C"/>
<rect x="352" y="339" width="6" height="6" fill="#DC143C"/>
<rect x="360" y="339" width="6" height="6" fill="#006400"/>
<rect x="368" y="339" width="6" height="6" fill="#006400"/>
<rect x="376" y="339" width="6" height="6" fill="#006400"/>
<rect x="384" y="339" width="6" height="6" fill="#006400"/>
<rect x="392" y="339" width="6" height="6" fill="#006400"/>
<rect x="400" y="339" width="6" height="6" fill="#006400"/>
<rect x="408" y="339" width="6" height="6" fill="#006400"/>
<rect x="416" y="339" width="6" height="6" fill="#006400"/>
<rect x="424" y="339" width="6" height="6" fill="#DC143C"/>
<rect x="432" y="339" width="6" height="6" fill="#DC143C"/>
<rect x="440" y="339" width="6" height="6" fill="#DC143C"/>
<rect x="448" y="339" width="6" height="6" fill="#DC143C"/>
<rect x="456" y="339" width="6" height="6" fill="#DC143C"/>
<rect x="464" y="339" width="6" height="6" fill="#DC143C"/>
<rect x="472" y="339" width="6" height="6" fill="#DC143C"/>
<rect x="480" y="339" width="6" height="6" fill="#DC143C"/>
<rect x="488" y="339" width="6" height="6" fill="#DC143C"/>
<rect x="496" y="339" width="6" height="6" fill="#DC143C"/>
<rect x="504" y="339" width="6" height="6" fill="#DC143C"/>
<rect x="512" y="339" width="6" height="6" fill="#DC143C"/>
<rect x="520" y="339" width="6" height="6" fill="#DC143C"/>
<rect x="528" y="339" width="6" height="6" fill="#DC143C"/>
<rect x="536" y="339" width="6" height="6" fill="#DC143C"/>
<rect x="544" y="339" width="6" height="6" fill="#DC143C"/>
<rect x="552" y="339" width="6" height="6" fill="#DC143C"/>
<rect x="560" y="339" width="6" height="6" fill="#DC143C"/>
<rect x="568" y="339" width="6" height="6" fill="#DC143C"/>
<rect x="576" y="339" width="6" height="6" fill="#DC143C"/>
<rect x="584" y="339" width="6" height="6" fill="#DC143C"/>
<rect x="592" y="339" width="6" height="6" fill="#DC143C"/>
<rect x="600" y="339" width="6" height="6" fill="#DC143C"/>
<rect x="608" y="339" width="6" height="6" fill="#DC143C"/>
<rect x="616" y="339" width="6" height="6" fill="#DC143C"/>
<rect x="624" y="339" width="6" height="6" fill="#DC143C"/>
<rect x="632" y="339" width="6" height="6" fill="#DC143C"/>
<rect x="640" y="339" width="6" height="6" fill="#DC143C"/>
<rect x="648" y="339" width="6" height="6" fill="#DC143C"/>
<rect x="656" y="339" width="6" height="6" fill="#DC143C"/>
<rect x="664" y="339" width="6" height="6" fill="#DC143C"/>
<rect x="672" y="339" width="6" height="6" fill="#DC143C"/>
<rect x="680" y="339" width="6" height="6" fill="#DC143C"/>
<rect x="688" y="339" width="6" height="6" fill="#DC143C"/>
<rect x="696" y="339" width="6" height="6" fill="#DC143C"/>
<rect x="704" y="339" width="6" height="6" fill="#DC143C"/>
<rect x="712" y="339" width="6" height="6" fill="#006400"/>
<rect x="720" y="339" width="6" height="6" fill="#006400"/>
<rect x="728" y="339" width="6" height="6" fill="#006400"/>
<rect x="736" y="339" width="6" height="6" fill="#006400"/>
<rect x="744" y="339" width="6" height="6" fill="#006400"/>
<rect x="752" y="339" width="6" height="6" fill="#006400"/>
<rect x="760" y="339" width="6" height="6" fill="#006400"/>
<rect x="768" y="339" width="6" height="6" fill="#006400"/>
<rect x="776" y="339" width="6" height="6" fill="#006400"/>
<rect x="784" y="339" width="6" height="6" fill="#006400"/>
<rect x="792" y="339" width="6" height="6" fill="#006400"/>
<rect x="800" y="339" width="6" height="6" fill="#006400"/>
<rect x="808" y="339" width="6" height="6" fill="#006400"/>
<rect x="816" y="339" width="6" height="6" fill="#006400"/>
<rect x="824" y="339" width="6" height="6" fill="#006400"/>
<rect x="832" y="339" width="6" height="6" fill="#006400"/>
<rect x="840" y="339" width="6" height="6" fill="#006400"/>
<rect x="848" y="339" width="6" height="6" fill="#006400"/>
<rect x="856" y="339" width="6" height="6" fill="#006400"/>
<rect x="864" y="339" width="6" height="6" fill="#006400"/>
<rect x="872" y="339" width="6" height="6" fill="#006400"/>
<rect x="880" y="339" width="6" height="6" fill="#006400"/>
<rect x="888" y="339" width="6" height="6" fill="#006400"/>
<rect x="896" y="339" width="6" height="6" fill="#006400"/>
<rect x="904" y="339" width="6" height="6" fill="#006400"/>
<rect x="912" y="339" width="6" height="6" fill="#006400"/>
<rect x="920" y="339" width="6" height="6" fill="#006400"/>
<rect x="928" y="339" width="6" height="6" fill="#006400"/>
<rect x="936" y="339" width="6" height="6" fill="#006400"/>
<rect x="944" y="339" width="6" height="6" fill="#006400"/>
<rect x="952" y="339" width="6" height="6" fill="#006400"/>
<rect x="960" y="339" width="6" height="6" fill="#006400"/>
<rect x="968" y="339" width="6" height="6" fill="#006400"/>
<rect x="976" y="339" width="6" height="6" fill="#006400"/>
<rect x="984" y="339" width="6" height="6" fill="#006400"/>
<rect x="992" y="339" width="6" height="6" fill="#006400"/>
<rect x="1000" y="339" width="6" height="6" fill="#006400"/>
<rect x="1008" y="339" width="6" height="6" fill="#006400"/>
<rect x="1016" y="339" width="6" height="6" fill="#006400"/>
<rect x="1024" y="339" width="6" height="6" fill="#006400"/>
<rect x="1032" y="339" width="6" height="6" fill="#006400"/>
<rect x="1040" y="339" width="6" height="6" fill="#006400"/>
<rect x="1048" y="339" width="6" height="6" fill="#006400"/>
<rect x="1056" y="339" width="6" height="6" fill="#006400"/>
<rect x="1064" y="339" width="6" height="6" fill="#006400"/>
<rect x="1072" y="339" width="6" height="6" fill="#006400"/>
<rect x="1080" y="339" width="6" height="6" fill="#006400"/>
<rect x="1088" y="339" width="6" height="6" fill="#006400"/>
<rect x="1096" y="339" width="6" height="6" fill="#DC143C"/>
<rect x="1104" y="339" width="6" height="6" fill="#DC143C"/>
<rect x="1112" y="339" width="6" height="6" fill="#006400"/>
<rect x="1120" y="339" width="6" height="6" fill="#006400"/>
<rect x="1128" y="339" width="6" height="6" fill="#006400"/>
<rect x="1136" y="339" width="6" height="6" fill="#006400"/>
<rect x="1144" y="339" width="6" height="6" fill="#006400"/>
<rect x="1152" y="339" width="6" height="6" fill="#006400"/>
<rect x="1160" y="339" width="6" height="6" fill="#006400"/>
<rect x="1168" y="339" width="6" height="6" fill="#006400"/>
<rect x="1176" y="339" width="6" height="6" fill="#006400"/>
<rect x="0" y="348" width="6" height="6" fill="#DC143C"/>
<rect x="8" y="348" width="6" height="6" fill="#DC143C"/>
<rect x="16" y="348" width="6" height="6" fill="#DC143C"/>
<rect x="24" y="348" width="6" height="6" fill="#006400"/>
<rect x="32" y="348" width="6" height="6" fill="#006400"/>
<rect x="40" y="348" width="6" height="6" fill="#006400"/>
<rect x="48" y="348" width="6" height="6" fill="#006400"/>
<rect x="56" y="348" width="6" height="6" fill="#006400"/>
<rect x="64" y="348" width="6" height="6" fill="#006400"/>
<rect x="72" y="348" width="6" height="6" fill="#006400"/>
<rect x="80" y="348" width="6" height="6" fill="#006400"/>
<rect x="88" y="348" width="6" height="6" fill="#006400"/>
<rect x="96" y="348" width="6" height="6" fill="#006400"/>
<rect x="104" y="348" width="6" height="6" fill="#006400"/>
<rect x="112" y="348" width="6" height="6" fill="#006400"/>
<rect x="120" y="348" width="6" height="6" fill="#006400"/>
<rect x="128" y="348" width="6" height="6" fill="#006400"/>
<rect x="136" y="348" width="6" height="6" fill="#006400"/>
<rect x="144" y="348" width="6" height="6" fill="#006400"/>
<rect x="152" y="348" width="6" height="6" fill="#006400"/>
<rect x="160" y="348" width="6" height="6" fill="#006400"/>
<rect x="168" y="348" width="6" height="6" fill="#006400"/>
<rect x="176" y="348" width="6" height="6" fill="#006400"/>
<rect x="184" y="348" width="6" height="6" fill="#006400"/>
<rect x="192" y="348" width="6" height="6" fill="#DC143C"/>
<rect x="200" y="348" width="6" height="6" fill="#DC143C"/>
<rect x="208" y="348" width="6" height="6" fill="#DC143C"/>
<rect x="216" y="348" width="6" height="6" fill="#DC143C"/>
<rect x="224" y="348" width="6" height="6" fill="#DC143C"/>
<rect x="232" y="348" width="6" height="6" fill="#DC143C"/>
<rect x="240" y="348" width="6" height="6" fill="#DC143C"/>
<rect x="248" y="348" width="6" height="6" fill="#DC143C"/>
<rect x="256" y="348" width="6" height="6" fill="#DC143C"/>
<rect x="264" y="348" width="6" height="6" fill="#DC143C"/>
<rect x="272" y="348" width="6" height="6" fill="#DC143C"/>
<rect x="280" y="348" width="6" height="6" fill="#DC143C"/>
<rect x="288" y="348" width="6" height="6" fill="#DC143C"/>
<rect x="296" y="348" width="6" height="6" fill="#DC143C"/>
<rect x="304" y="348" width="6" height="6" fill="#DC143C"/>
<rect x="312" y="348" width="6" height="6" fill="#DC143C"/>
<rect x="320" y="348" width="6" height="6" fill="#DC143C"/>
<rect x="328" y="348" width="6" height="6" fill="#DC143C"/>
<rect x="336" y="348" width="6" height="6" fill="#DC143C"/>
<rect x="344" y="348" width="6" height="6" fill="#DC143C"/>
<rect x="352" y="348" width="6" height="6" fill="#DC143C"/>
<rect x="360" y="348" width="6" height="6" fill="#DC143C"/>
<rect x="368" y="348" width="6" height="6" fill="#DC143C"/>
<rect x="376" y="348" width="6" height="6" fill="#DC143C"/>
<rect x="384" y="348" width="6" height="6" fill="#DC143C"/>
<rect x="392" y="348" width="6" height="6" fill="#006400"/>
<rect x="400" y="348" width="6" height="6" fill="#006400"/>
<rect x="408" y="348" width="6" height="6" fill="#006400"/>
<rect x="416" y="348" width="6" height="6" fill="#006400"/>
<rect x="424" y="348" width="6" height="6" fill="#006400"/>
<rect x="432" y="348" width="6" height="6" fill="#DC143C"/>
<rect x="440" y="348" width="6" height="6" fill="#006400"/>
<rect x="448" y="348" width="6" height="6" fill="#006400"/>
<rect x="456" y="348" width="6" height="6" fill="#006400"/>
<rect x="464" y="348" width="6" height="6" fill="#DC143C"/>
<rect x="472" y="348" width="6" height="6" fill="#DC143C"/>
<rect x="480" y="348" width="6" height="6" fill="#DC143C"/>
<rect x="488" y="348" width="6" height="6" fill="#DC143C"/>
<rect x="496" y="348" width="6" height="6" fill="#DC143C"/>
<rect x="504" y="348" width="6" height="6" fill="#DC143C"/>
<rect x="512" y="348" width="6" height="6" fill="#DC143C"/>
<rect x="520" y="348" width="6" height="6" fill="#DC143C"/>
<rect x="528" y="348" width="6" height="6" fill="#DC143C"/>
<rect x="536" y="348" width="6" height="6" fill="#DC143C"/>
<rect x="544" y="348" width="6" height="6" fill="#DC143C"/>
<rect x="552" y="348" width="6" height="6" fill="#DC143C"/>
<rect x="560" y="348" width="6" height="6" fill="#DC143C"/>
<rect x="568" y="348" width="6" height="6" fill="#DC143C"/>
<rect x="576" y="348" width="6" height="6" fill="#DC143C"/>
<rect x="584" y="348" width="6" height="6" fill="#DC143C"/>
<rect x="592" y="348" width="6" height="6" fill="#DC143C"/>
<rect x="600" y="348" width="6" height="6" fill="#DC143C"/>
<rect x="608" y="348" width="6" height="6" fill="#DC143C"/>
<rect x="616" y="348" width="6" height="6" fill="#DC143C"/>
<rect x="624" y="348" width="6" height="6" fill="#DC143C"/>
<rect x="632" y="348" width="6" height="6" fill="#DC143C"/>
<rect x="640" y="348" width="6" height="6" fill="#DC143C"/>
<rect x="648" y="348" width="6" height="6" fill="#006400"/>
<rect x="656" y="348" width="6" height="6" fill="#006400"/>
<rect x="664" y="348" width="6" height="6" fill="#006400"/>
<rect x="672" y="348" width="6" height="6" fill="#DC143C"/>
<rect x="680" y="348" width="6" height="6" fill="#006400"/>
<rect x="688" y="348" width="6" height="6" fill="#006400"/>
<rect x="696" y="348" width="6" height="6" fill="#006400"/>
<rect x="704" y="348" width="6" height="6" fill="#006400"/>
<rect x="712" y="348" width="6" height="6" fill="#006400"/>
<rect x="720" y="348" width="6" height="6" fill="#006400"/>
<rect x="728" y="348" width="6" height="6" fill="#006400"/>
<rect x="736" y="348" width="6" height="6" fill="#006400"/>
<rect x="744" y="348" width="6" height="6" fill="#006400"/>
<rect x="752" y="348" width="6" height="6" fill="#006400"/>
<rect x="760" y="348" width="6" height="6" fill="#006400"/>
<rect x="768" y="348" width="6" height="6" fill="#006400"/>
<rect x="776" y="348" width="6" height="6" fill="#006400"/>
<rect x="784" y="348" width="6" height="6" fill="#006400"/>
<rect x="792" y="348" width="6" height="6" fill="#006400"/>
<rect x="800" y="348" width="6" height="6" fill="#006400"/>
<rect x="808" y="348" width="6" height="6" fill="#006400"/>
<rect x="816" y="348" width="6" height="6" fill="#006400"/>
<rect x="824" y="348" width="6" height="6" fill="#006400"/>
<rect x="832" y="348" width="6" height="6" fill="#006400"/>
<rect x="840" y="348" width="6" height="6" fill="#006400"/>
<rect x="848" y="348" width="6" height="6" fill="#006400"/>
<rect x="856" y="348" width="6" height="6" fill="#006400"/>
<rect x="864" y="348" width="6" height="6" fill="#006400"/>
<rect x="872" y="348" width="6" height="6" fill="#006400"/>
<rect x="880" y="348" width="6" height="6" fill="#006400"/>
<rect x="888" y="348" width="6" height="6" fill="#006400"/>
<rect x="896" y="348" width="6" height="6" fill="#DC143C"/>
<rect x="904" y="348" width="6" height="6" fill="#DC143C"/>
<rect x="912" y="348" width="6" height="6" fill="#DC143C"/>
<rect x="920" y="348" width="6" height="6" fill="#DC143C"/>
<rect x="928" y="348" width="6" height="6" fill="#DC143C"/>
<rect x="936" y="348" width="6" height="6" fill="#DC143C"/>
<rect x="944" y="348" width="6" height="6" fill="#DC143C"/>
<rect x="952" y="348" width="6" height="6" fill="#DC143C"/>
<rect x="960" y="348" width="6" height="6" fill="#DC143C"/>
<rect x="968" y="348" width="6" height="6" fill="#DC143C"/>
<rect x="976" y="348" width="6" height="6" fill="#DC143C"/>
<rect x="984" y="348" width="6" height="6" fill="#DC143C"/>
<rect x="992" y="348" width="6" height="6" fill="#DC143C"/>
<rect x="1000" y="348" width="6" height="6" fill="#DC143C"/>
<rect x="1008" y="348" width="6" height="6" fill="#DC143C"/>
<rect x="1016" y="348" width="6" height="6" fill="#DC143C"/>
<rect x="1024" y="348" width="6" height="6" fill="#DC143C"/>
<rect x="1032" y="348" width="6" height="6" fill="#DC143C"/>
<rect x="1040" y="348" width="6" height="6" fill="#DC143C"/>
<rect x="1048" y="348" width="6" height="6" fill="#DC143C"/>
<rect x="1056" y="348" width="6" height="6" fill="#DC143C"/>
<rect x="1064" y="348" width="6" height="6" fill="#006400"/>
<rect x="1072" y="348" width="6" height="6" fill="#006400"/>
<rect x="1080" y="348" width="6" height="6" fill="#006400"/>
<rect x="1088" y="348" width="6" height="6" fill="#006400"/>
<rect x="1096" y="348" width="6" height="6" fill="#DC143C"/>
<rect x="1104" y="348" width="6" height="6" fill="#DC143C"/>
<rect x="1112" y="348" width="6" height="6" fill="#006400"/>
<rect x="1120" y="348" width="6" height="6" fill="#006400"/>
<rect x="1128" y="348" width="6" height="6" fill="#006400"/>
<rect x="1136" y="348" width="6" height="6" fill="#006400"/>
<rect x="1144" y="348" width="6" height="6" fill="#006400"/>
<rect x="1152" y="348" width="6" height="6" fill="#006400"/>
<rect x="1160" y="348" width="6" height="6" fill="#006400"/>
<rect x="1168" y="348" width="6" height="6" fill="#006400"/>
<rect x="1176" y="348" width="6" height="6" fill="#006400"/>
</g>
<g clip-path="url(#c2)">
<rect x="2" y="420" width="3" height="36" fill="#DC143C"/>
<rect x="10" y="420" width="3" height="36" fill="#DC143C"/>
<rect x="18" y="420" width="3" height="37" fill="#DC143C"/>
<rect x="27" y="420" width="1" height="35" fill="#FF0000"/>
<rect x="35" y="420" width="1" height="34" fill="#FF0000"/>
<rect x="43" y="420" width="1" height="31" fill="#FF0000"/>
<rect x="51" y="420" width="1" height="28" fill="#FF0000"/>
<rect x="59" y="420" width="1" height="26" fill="#FF0000"/>
<rect x="67" y="420" width="1" height="21" fill="#FF0000"/>
<rect x="75" y="420" width="1" height="20" fill="#FF0000"/>
<rect x="83" y="420" width="1" height="16" fill="#FF0000"/>
<rect x="91" y="420" width="1" height="12" fill="#FF0000"/>
<rect x="99" y="420" width="1" height="8" fill="#FF0000"/>
<rect x="107" y="420" width="1" height="2" fill="#FF0000"/>
<rect x="114" y="418" width="3" height="2" fill="#006400"/>
<rect x="122" y="411" width="3" height="9" fill="#006400"/>
<rect x="130" y="404" width="3" height="16" fill="#006400"/>
<rect x="138" y="398" width="3" height="22" fill="#006400"/>
<rect x="146" y="392" width="3" height="28" fill="#006400"/>
<rect x="154" y="384" width="3" height="36" fill="#006400"/>
<rect x="162" y="378" width="3" height="42" fill="#006400"/>
<rect x="170" y="373" width="3" height="47" fill="#006400"/>
<rect x="178" y="371" width="3" height="49" fill="#006400"/>
<rect x="186" y="370" width="3" height="50" fill="#006400"/>
<rect x="195" y="371" width="1" height="49" fill="#00FF00"/>
<rect x="203" y="371" width="1" height="49" fill="#00FF00"/>
<rect x="211" y="373" width="1" height="47" fill="#00FF00"/>
<rect x="219" y="376" width="1" height="44" fill="#00FF00"/>
<rect x="227" y="379" width="1" height="41" fill="#00FF00"/>
<rect x="235" y="381" width="1" height="39" fill="#00FF00"/>
<rect x="243" y="384" width="1" height="36" fill="#00FF00"/>
<rect x="251" y="389" width="1" height="31" fill="#00FF00"/>
<rect x="259" y="393" width="1" height="27" fill="#00FF00"/>
<rect x="267" y="397" width="1" height="23" fill="#00FF00"/>
<rect x="275" y="401" width="1" height="19" fill="#00FF00"/>
<rect x="283" y="407" width="1" height="13" fill="#00FF00"/>
<rect x="291" y="413" width="1" height="7" fill="#00FF00"/>
<rect x="306" y="420" width="3" height="7" fill="#DC143C"/>
<rect x="314" y="420" width="3" height="12" fill="#DC143C"/>
<rect x="322" y="420" width="3" height="16" fill="#DC143C"/>
<rect x="330" y="420" width="3" height="19" fill="#DC143C"/>
<rect x="338" y="420" width="3" height="23" fill="#DC143C"/>
<rect x="346" y="420" width="3" height="25" fill="#DC143C"/>
<rect x="354" y="420" width="3" height="28" fill="#DC143C"/>
<rect x="362" y="420" width="3" height="30" fill="#DC143C"/>
<rect x="370" y="420" width="3" height="31" fill="#DC143C"/>
<rect x="378" y="420" width="3" height="31" fill="#DC143C"/>
<rect x="386" y="420" width="3" height="31" fill="#DC143C"/>
<rect x="395" y="420" width="1" height="30" fill="#FF0000"/>
<rect x="403" y="420" width="1" height="30" fill="#FF0000"/>
<rect x="411" y="420" width="1" height="29" fill="#FF0000"/>
<rect x="419" y="420" width="1" height="27" fill="#FF0000"/>
<rect x="427" y="420" width="1" height="26" fill="#FF0000"/>
<rect x="434" y="420" width="3" height="27" fill="#DC143C"/>
<rect x="443" y="420" width="1" height="26" fill="#FF0000"/>
<rect x="451" y="420" width="1" height="26" fill="#FF0000"/>
<rect x="459" y="420" width="1" height="26" fill="#FF0000"/>
<rect x="466" y="420" width="3" height="26" fill="#DC143C"/>
<rect x="474" y="420" width="3" height="29" fill="#DC143C"/>
<rect x="482" y="420" width="3" height="30" fill="#DC143C"/>
<rect x="490" y="420" width="3" height="31" fill="#DC143C"/>
<rect x="498" y="420" width="3" height="32" fill="#DC143C"/>
<rect x="506" y="420" width="3" height="34" fill="#DC143C"/>
<rect x="514" y="420" width="3" height="37" fill="#DC143C"/>
<rect x="522" y="420" width="3" height="39" fill="#DC143C"/>
<rect x="530" y="420" width="3" height="41" fill="#DC143C"/>
<rect x="538" y="420" width="3" height="42" fill="#DC143C"/>
<rect x="546" y="420" width="3" height="43" fill="#DC143C"/>
<rect x="554" y="420" width="3" height="44" fill="#DC143C"/>
<rect x="562" y="420" width="3" height="45" fill="#DC143C"/>
<rect x="570" y="420" width="3" height="46" fill="#DC143C"/>
<rect x="578" y="420" width="3" height="47" fill="#DC143C"/>
<rect x="586" y="420" width="3" height="48" fill="#DC143C"/>
<rect x="594" y="420" width="3" height="49" fill="#DC143C"/>
<rect x="602" y="420" width="3" height="49" fill="#DC143C"/>
<rect x="610" y="420" width="3" height="51" fill="#DC143C"/>
<rect x="618" y="420" width="3" height="52" fill="#DC143C"/>
<rect x="626" y="420" width="3" height="54" fill="#DC143C"/>
<rect x="634" y="420" width="3" height="55" fill="#DC143C"/>
<rect x="642" y="420" width="3" height="55" fill="#DC143C"/>
<rect x="651" y="420" width="1" height="54" fill="#FF0000"/>
<rect x="659" y="420" width="1" height="53" fill="#FF0000"/>
<rect x="667" y="420" width="1" height="53" fill="#FF0000"/>
<rect x="674" y="420" width="3" height="53" fill="#DC143C"/>
<rect x="683" y="420" width="1" height="50" fill="#FF0000"/>
<rect x="691" y="420" width="1" height="46" fill="#FF0000"/>
<rect x="699" y="420" width="1" height="41" fill="#FF0000"/>
<rect x="707" y="420" width="1" height="36" fill="#FF0000"/>
<rect x="715" y="420" width="1" height="32" fill="#FF0000"/>
<rect x="723" y="420" width="1" height="26" fill="#FF0000"/>
<rect x="731" y="420" width="1" height="22" fill="#FF0000"/>
<rect x="739" y="420" width="1" height="17" fill="#FF0000"/>
<rect x="747" y="420" width="1" height="12" fill="#FF0000"/>
<rect x="755" y="420" width="1" height="7" fill="#FF0000"/>
<rect x="763" y="420" width="1" height="2" fill="#FF0000"/>
<rect x="770" y="419" width="3" height="1" fill="#006400"/>
<rect x="778" y="416" width="3" height="4" fill="#006400"/>
<rect x="786" y="413" width="3" height="7" fill="#006400"/>
<rect x="794" y="411" width="3" height="9" fill="#006400"/>
<rect x="802" y="410" width="3" height="10" fill="#006400"/>
<rect x="810" y="408" width="3" height="12" fill="#006400"/>
<rect x="818" y="407" width="3" height="13" fill="#006400"/>
<rect x="826" y="405" width="3" height="15" fill="#006400"/>
<rect x="834" y="402" width="3" height="18" fill="#006400"/>
<rect x="842" y="399" width="3" height="21" fill="#006400"/>
<rect x="850" y="397" width="3" height="23" fill="#006400"/>
<rect x="858" y="394" width="3" height="26" fill="#006400"/>
<rect x="866" y="393" width="3" height="27" fill="#006400"/>
<rect x="874" y="392" width="3" height="28" fill="#006400"/>
<rect x="882" y="392" width="3" height="28" fill="#006400"/>
<rect x="890" y="392" width="3" height="28" fill="#006400"/>
<rect x="899" y="395" width="1" height="25" fill="#00FF00"/>
<rect x="907" y="396" width="1" height="24" fill="#00FF00"/>
<rect x="915" y="398" width="1" height="22" fill="#00FF00"/>
<rect x="923" y="401" width="1" height="19" fill="#00FF00"/>
<rect x="931" y="406" width="1" height="14" fill="#00FF00"/>
<rect x="939" y="410" width="1" height="10" fill="#00FF00"/>
<rect x="947" y="414" width="1" height="6" fill="#00FF00"/>
<rect x="955" y="418" width="1" height="2" fill="#00FF00"/>
<rect x="962" y="420" width="3" height="2" fill="#DC143C"/>
<rect x="970" y="420" width="3" height="5" fill="#DC143C"/>
<rect x="978" y="420" width="3" height="8" fill="#DC143C"/>
<rect x="986" y="420" width="3" height="12" fill="#DC143C"/>
<rect x="994" y="420" width="3" height="14" fill="#DC143C"/>
<rect x="1002" y="420" width="3" height="16" fill="#DC143C"/>
<rect x="1010" y="420" width="3" height="18" fill="#DC143C"/>
<rect x="1018" y="420" width="3" height="20" fill="#DC143C"/>
<rect x="1026" y="420" width="3" height="22" fill="#DC143C"/>
<rect x="1034" y="420" width="3" height="22" fill="#DC143C"/>
<rect x="1042" y="420" width="3" height="23" fill="#DC143C"/>
<rect x="1050" y="420" width="3" height="23" fill="#DC143C"/>
<rect x="1058" y="420" width="3" height="23" fill="#DC143C"/>
<rect x="1067" y="420" width="1" height="23" fill="#FF0000"/>
<rect x="1075" y="420" width="1" height="23" fill="#FF0000"/>
<rect x="1083" y="420" width="1" height="22" fill="#FF0000"/>
<rect x="1091" y="420" width="1" height="22" fill="#FF0000"/>
<rect x="1098" y="420" width="3" height="22" fill="#DC143C"/>
<rect x="1106" y="420" width="3" height="22" fill="#DC143C"/>
<rect x="1115" y="420" width="1" height="22" fill="#FF0000"/>
<rect x="1123" y="420" width="1" height="22" fill="#FF0000"/>
<rect x="1131" y="420" width="1" height="20" fill="#FF0000"/>
<rect x="1139" y="420" width="1" height="20" fill="#FF0000"/>
<rect x="1147" y="420" width="1" height="18" fill="#FF0000"/>
<rect x="1155" y="420" width="1" height="16" fill="#FF0000"/>
<rect x="1163" y="420" width="1" height="13" fill="#FF0000"/>
<rect x="1171" y="420" width="1" height="10" fill="#FF0000"/>
<rect x="1179" y="420" width="1" height="8" fill="#FF0000"/>
<line x1="3.5" y1="455.9" x2="11.5" y2="456.2" stroke="#FF0000" stroke-width="2" stroke-linecap="square"/>
<line x1="11.5" y1="456.2" x2="19.5" y2="456.9" stroke="#FF0000" stroke-width="2" stroke-linecap="square"/>
<line x1="19.5" y1="456.9" x2="27.5" y2="454.6" stroke="#008000" stroke-width="2" stroke-linecap="square"/>
<line x1="27.5" y1="454.6" x2="35.5" y2="454.5" stroke="#008000" stroke-width="2" stroke-linecap="square"/>
<line x1="35.5" y1="454.5" x2="43.5" y2="451.3" stroke="#008000" stroke-width="2" stroke-linecap="square"/>
<line x1="43.5" y1="451.3" x2="51.5" y2="448.5" stroke="#008000" stroke-width="2" stroke-linecap="square"/>
<line x1="51.5" y1="448.5" x2="59.5" y2="445.9" stroke="#008000" stroke-width="2" stroke-linecap="square"/>
<line x1="59.5" y1="445.9" x2="67.5" y2="440.9" stroke="#008000" stroke-width="2" stroke-linecap="square"/>
<line x1="67.5" y1="440.9" x2="75.5" y2="439.5" stroke="#008000" stroke-width="2" stroke-linecap="square"/>
<line x1="75.5" y1="439.5" x2="83.5" y2="436.5" stroke="#008000" stroke-width="2" stroke-linecap="square"/>
<line x1="83.5" y1="436.5" x2="91.5" y2="432.5" stroke="#008000" stroke-width="2" stroke-linecap="square"/>
<line x1="91.5" y1="432.5" x2="99.5" y2="428.5" stroke="#008000" stroke-width="2" stroke-linecap="square"/>
<line x1="99.5" y1="428.5" x2="107.5" y2="422.2" stroke="#008000" stroke-width="2" stroke-linecap="square"/>
<line x1="107.5" y1="422.2" x2="115.5" y2="417.6" stroke="#008000" stroke-width="2" stroke-linecap="square"/>
<line x1="115.5" y1="417.6" x2="123.5" y2="411.1" stroke="#008000" stroke-width="2" stroke-linecap="square"/>
<line x1="123.5" y1="411.1" x2="131.5" y2="404.3" stroke="#008000" stroke-width="2" stroke-linecap="square"/>
<line x1="131.5" y1="404.3" x2="139.5" y2="397.8" stroke="#008000" stroke-width="2" stroke-linecap="square"/>
<line x1="139.5" y1="397.8" x2="147.5" y2="392" stroke="#008000" stroke-width="2" stroke-linecap="square"/>
<line x1="147.5" y1="392" x2="155.5" y2="384.3" stroke="#008000" stroke-width="2" stroke-linecap="square"/>
<line x1="155.5" y1="384.3" x2="163.5" y2="378.2" stroke="#008000" stroke-width="2" stroke-linecap="square"/>
<line x1="163.5" y1="378.2" x2="171.5" y2="373.2" stroke="#008000" stroke-width="2" stroke-linecap="square"/>
<line x1="171.5" y1="373.2" x2="179.5" y2="371" stroke="#008000" stroke-width="2" stroke-linecap="square"/>
<line x1="179.5" y1="371" x2="187.5" y2="370.4" stroke="#008000" stroke-width="2" stroke-linecap="square"/>
<line x1="187.5" y1="370.4" x2="195.5" y2="370.6" stroke="#FF0000" stroke-width="2" stroke-linecap="square"/>
<line x1="195.5" y1="370.6" x2="203.5" y2="371" stroke="#FF0000" stroke-width="2" stroke-linecap="square"/>
<line x1="203.5" y1="371" x2="211.5" y2="373.4" stroke="#FF0000" stroke-width="2" stroke-linecap="square"/>
<line x1="211.5" y1="373.4" x2="219.5" y2="376.4" stroke="#FF0000" stroke-width="2" stroke-linecap="square"/>
<line x1="219.5" y1="376.4" x2="227.5" y2="378.6" stroke="#FF0000" stroke-width="2" stroke-linecap="square"/>
<line x1="227.5" y1="378.6" x2="235.5" y2="381" stroke="#FF0000" stroke-width="2" stroke-linecap="square"/>
<line x1="235.5" y1="381" x2="243.5" y2="384" stroke="#FF0000" stroke-width="2" stroke-linecap="square"/>
<line x1="243.5" y1="384" x2="251.5" y2="389" stroke="#FF0000" stroke-width="2" stroke-linecap="square"/>
<line x1="251.5" y1="389" x2="259.5" y2="393" stroke="#FF0000" stroke-width="2" stroke-linecap="square"/>
<line x1="259.5" y1="393" x2="267.5" y2="397.4" stroke="#FF0000" stroke-width="2" stroke-linecap="square"/>
<line x1="267.5" y1="397.4" x2="275.5" y2="401" stroke="#FF0000" stroke-width="2" stroke-linecap="square"/>
<line x1="275.5" y1="401" x2="283.5" y2="407.3" stroke="#FF0000" stroke-width="2" stroke-linecap="square"/>
<line x1="283.5" y1="407.3" x2="291.5" y2="413.3" stroke="#FF0000" stroke-width="2" stroke-linecap="square"/>
<line x1="291.5" y1="413.3" x2="299.5" y2="419.9" stroke="#FF0000" stroke-width="2" stroke-linecap="square"/>
<line x1="299.5" y1="419.9" x2="307.5" y2="427.3" stroke="#FF0000" stroke-width="2" stroke-linecap="square"/>
<line x1="307.5" y1="427.3" x2="315.5" y2="431.9" stroke="#FF0000" stroke-width="2" stroke-linecap="square"/>
<line x1="315.5" y1="431.9" x2="323.5" y2="435.9" stroke="#FF0000" stroke-width="2" stroke-linecap="square"/>
<line x1="323.5" y1="435.9" x2="331.5" y2="438.9" stroke="#FF0000" stroke-width="2" stroke-linecap="square"/>
<line x1="331.5" y1="438.9" x2="339.5" y2="442.9" stroke="#FF0000" stroke-width="2" stroke-linecap="square"/>
<line x1="339.5" y1="442.9" x2="347.5" y2="445.3" stroke="#FF0000" stroke-width="2" stroke-linecap="square"/>
<line x1="347.5" y1="445.3" x2="355.5" y2="448.3" stroke="#FF0000" stroke-width="2" stroke-linecap="square"/>
<line x1="355.5" y1="448.3" x2="363.5" y2="449.9" stroke="#FF0000" stroke-width="2" stroke-linecap="square"/>
<line x1="363.5" y1="449.9" x2="371.5" y2="450.6" stroke="#FF0000" stroke-width="2" stroke-linecap="square"/>
<line x1="371.5" y1="450.6" x2="379.5" y2="450.9" stroke="#FF0000" stroke-width="2" stroke-linecap="square"/>
<line x1="379.5" y1="450.9" x2="387.5" y2="451.1" stroke="#FF0000" stroke-width="2" stroke-linecap="square"/>
<line x1="387.5" y1="451.1" x2="395.5" y2="449.9" stroke="#008000" stroke-width="2" stroke-linecap="square"/>
<line x1="395.5" y1="449.9" x2="403.5" y2="449.5" stroke="#008000" stroke-width="2" stroke-linecap="square"/>
<line x1="403.5" y1="449.5" x2="411.5" y2="448.9" stroke="#008000" stroke-width="2" stroke-linecap="square"/>
<line x1="411.5" y1="448.9" x2="419.5" y2="447.3" stroke="#008000" stroke-width="2" stroke-linecap="square"/>
<line x1="419.5" y1="447.3" x2="427.5" y2="446.4" stroke="#008000" stroke-width="2" stroke-linecap="square"/>
<line x1="427.5" y1="446.4" x2="435.5" y2="446.6" stroke="#FF0000" stroke-width="2" stroke-linecap="square"/>
<line x1="435.5" y1="446.6" x2="443.5" y2="446.2" stroke="#008000" stroke-width="2" stroke-linecap="square"/>
<line x1="443.5" y1="446.2" x2="451.5" y2="445.9" stroke="#008000" stroke-width="2" stroke-linecap="square"/>
<line x1="451.5" y1="445.9" x2="459.5" y2="445.7" stroke="#008000" stroke-width="2" stroke-linecap="square"/>
<line x1="459.5" y1="445.7" x2="467.5" y2="446.5" stroke="#FF0000" stroke-width="2" stroke-linecap="square"/>
<line x1="467.5" y1="446.5" x2="475.5" y2="449.3" stroke="#FF0000" stroke-width="2" stroke-linecap="square"/>
<line x1="475.5" y1="449.3" x2="483.5" y2="449.9" stroke="#FF0000" stroke-width="2" stroke-linecap="square"/>
<line x1="483.5" y1="449.9" x2="491.5" y2="451.3" stroke="#FF0000" stroke-width="2" stroke-linecap="square"/>
<line x1="491.5" y1="451.3" x2="499.5" y2="451.9" stroke="#FF0000" stroke-width="2" stroke-linecap="square"/>
<line x1="499.5" y1="451.9" x2="507.5" y2="453.9" stroke="#FF0000" stroke-width="2" stroke-linecap="square"/>
<line x1="507.5" y1="453.9" x2="515.5" y2="456.9" stroke="#FF0000" stroke-width="2" stroke-linecap="square"/>
<line x1="515.5" y1="456.9" x2="523.5" y2="458.9" stroke="#FF0000" stroke-width="2" stroke-linecap="square"/>
<line x1="523.5" y1="458.9" x2="531.5" y2="460.9" stroke="#FF0000" stroke-width="2" stroke-linecap="square"/>
<line x1="531.5" y1="460.9" x2="539.5" y2="462.5" stroke="#FF0000" stroke-width="2" stroke-linecap="square"/>
<line x1="539.5" y1="462.5" x2="547.5" y2="463.3" stroke="#FF0000" stroke-width="2" stroke-linecap="square"/>
<line x1="547.5" y1="463.3" x2="555.5" y2="464.3" stroke="#FF0000" stroke-width="2" stroke-linecap="square"/>
<line x1="555.5" y1="464.3" x2="563.5" y2="465.3" stroke="#FF0000" stroke-width="2" stroke-linecap="square"/>
<line x1="563.5" y1="465.3" x2="571.5" y2="466.3" stroke="#FF0000" stroke-width="2" stroke-linecap="square"/>
<line x1="571.5" y1="466.3" x2="579.5" y2="467.3" stroke="#FF0000" stroke-width="2" stroke-linecap="square"/>
<line x1="579.5" y1="467.3" x2="587.5" y2="468.5" stroke="#FF0000" stroke-width="2" stroke-linecap="square"/>
<line x1="587.5" y1="468.5" x2="595.5" y2="468.9" stroke="#FF0000" stroke-width="2" stroke-linecap="square"/>
<line x1="595.5" y1="468.9" x2="603.5" y2="469.2" stroke="#FF0000" stroke-width="2" stroke-linecap="square"/>
<line x1="603.5" y1="469.2" x2="611.5" y2="471.2" stroke="#FF0000" stroke-width="2" stroke-linecap="square"/>
<line x1="611.5" y1="471.2" x2="619.5" y2="472.4" stroke="#FF0000" stroke-width="2" stroke-linecap="square"/>
<line x1="619.5" y1="472.4" x2="627.5" y2="473.8" stroke="#FF0000" stroke-width="2" stroke-linecap="square"/>
<line x1="627.5" y1="473.8" x2="635.5" y2="474.6" stroke="#FF0000" stroke-width="2" stroke-linecap="square"/>
<line x1="635.5" y1="474.6" x2="643.5" y2="474.9" stroke="#FF0000" stroke-width="2" stroke-linecap="square"/>
<line x1="643.5" y1="474.9" x2="651.5" y2="474.4" stroke="#008000" stroke-width="2" stroke-linecap="square"/>
<line x1="651.5" y1="474.4" x2="659.5" y2="473.4" stroke="#008000" stroke-width="2" stroke-linecap="square"/>
<line x1="659.5" y1="473.4" x2="667.5" y2="472.8" stroke="#008000" stroke-width="2" stroke-linecap="square"/>
<line x1="667.5" y1="472.8" x2="675.5" y2="473.0" stroke="#FF0000" stroke-width="2" stroke-linecap="square"/>
<line x1="675.5" y1="473.0" x2="683.5" y2="469.8" stroke="#008000" stroke-width="2" stroke-linecap="square"/>
<line x1="683.5" y1="469.8" x2="691.5" y2="465.9" stroke="#008000" stroke-width="2" stroke-linecap="square"/>
<line x1="691.5" y1="465.9" x2="699.5" y2="460.9" stroke="#008000" stroke-width="2" stroke-linecap="square"/>
<line x1="699.5" y1="460.9" x2="707.5" y2="456.5" stroke="#008000" stroke-width="2" stroke-linecap="square"/>
<line x1="707.5" y1="456.5" x2="715.5" y2="451.9" stroke="#008000" stroke-width="2" stroke-linecap="square"/>
<line x1="715.5" y1="451.9" x2="723.5" y2="445.9" stroke="#008000" stroke-width="2" stroke-linecap="square"/>
<line x1="723.5" y1="445.9" x2="731.5" y2="441.9" stroke="#008000" stroke-width="2" stroke-linecap="square"/>
<line x1="731.5" y1="441.9" x2="739.5" y2="436.9" stroke="#008000" stroke-width="2" stroke-linecap="square"/>
<line x1="739.5" y1="436.9" x2="747.5" y2="431.9" stroke="#008000" stroke-width="2" stroke-linecap="square"/>
<line x1="747.5" y1="431.9" x2="755.5" y2="426.9" stroke="#008000" stroke-width="2" stroke-linecap="square"/>
<line x1="755.5" y1="426.9" x2="763.5" y2="422.5" stroke="#008000" stroke-width="2" stroke-linecap="square"/>
<line x1="763.5" y1="422.5" x2="771.5" y2="418.9" stroke="#008000" stroke-width="2" stroke-linecap="square"/>
<line x1="771.5" y1="418.9" x2="779.5" y2="415.9" stroke="#008000" stroke-width="2" stroke-linecap="square"/>
<line x1="779.5" y1="415.9" x2="787.5" y2="413.3" stroke="#008000" stroke-width="2" stroke-linecap="square"/>
<line x1="787.5" y1="413.3" x2="795.5" y2="411.3" stroke="#008000" stroke-width="2" stroke-linecap="square"/>
<line x1="795.5" y1="411.3" x2="803.5" y2="409.9" stroke="#008000" stroke-width="2" stroke-linecap="square"/>
<line x1="803.5" y1="409.9" x2="811.5" y2="408.5" stroke="#008000" stroke-width="2" stroke-linecap="square"/>
<line x1="811.5" y1="408.5" x2="819.5" y2="407.3" stroke="#008000" stroke-width="2" stroke-linecap="square"/>
<line x1="819.5" y1="407.3" x2="827.5" y2="405.3" stroke="#008000" stroke-width="2" stroke-linecap="square"/>
<line x1="827.5" y1="405.3" x2="835.5" y2="401.9" stroke="#008000" stroke-width="2" stroke-linecap="square"/>
<line x1="835.5" y1="401.9" x2="843.5" y2="398.9" stroke="#008000" stroke-width="2" stroke-linecap="square"/>
<line x1="843.5" y1="398.9" x2="851.5" y2="396.9" stroke="#008000" stroke-width="2" stroke-linecap="square"/>
<line x1="851.5" y1="396.9" x2="859.5" y2="394.4" stroke="#008000" stroke-width="2" stroke-linecap="square"/>
<line x1="859.5" y1="394.4" x2="867.5" y2="393" stroke="#008000" stroke-width="2" stroke-linecap="square"/>
<line x1="867.5" y1="393" x2="875.5" y2="392.4" stroke="#008000" stroke-width="2" stroke-linecap="square"/>
<line x1="875.5" y1="392.4" x2="883.5" y2="392" stroke="#008000" stroke-width="2" stroke-linecap="square"/>
<line x1="883.5" y1="392" x2="891.5" y2="391.6" stroke="#008000" stroke-width="2" stroke-linecap="square"/>
<line x1="891.5" y1="391.6" x2="899.5" y2="394.6" stroke="#FF0000" stroke-width="2" stroke-linecap="square"/>
<line x1="899.5" y1="394.6" x2="907.5" y2="396.4" stroke="#FF0000" stroke-width="2" stroke-linecap="square"/>
<line x1="907.5" y1="396.4" x2="915.5" y2="398" stroke="#FF0000" stroke-width="2" stroke-linecap="square"/>
<line x1="915.5" y1="398" x2="923.5" y2="401.3" stroke="#FF0000" stroke-width="2" stroke-linecap="square"/>
<line x1="923.5" y1="401.3" x2="931.5" y2="405.9" stroke="#FF0000" stroke-width="2" stroke-linecap="square"/>
<line x1="931.5" y1="405.9" x2="939.5" y2="409.9" stroke="#FF0000" stroke-width="2" stroke-linecap="square"/>
<line x1="939.5" y1="409.9" x2="947.5" y2="414.5" stroke="#FF0000" stroke-width="2" stroke-linecap="square"/>
<line x1="947.5" y1="414.5" x2="955.5" y2="418.5" stroke="#FF0000" stroke-width="2" stroke-linecap="square"/>
<line x1="955.5" y1="418.5" x2="963.5" y2="421.9" stroke="#FF0000" stroke-width="2" stroke-linecap="square"/>
<line x1="963.5" y1="421.9" x2="971.5" y2="424.9" stroke="#FF0000" stroke-width="2" stroke-linecap="square"/>
<line x1="971.5" y1="424.9" x2="979.5" y2="427.9" stroke="#FF0000" stroke-width="2" stroke-linecap="square"/>
<line x1="979.5" y1="427.9" x2="987.5" y2="431.9" stroke="#FF0000" stroke-width="2" stroke-linecap="square"/>
<line x1="987.5" y1="431.9" x2="995.5" y2="434.5" stroke="#FF0000" stroke-width="2" stroke-linecap="square"/>
<line x1="995.5" y1="434.5" x2="1003.5" y2="436.5" stroke="#FF0000" stroke-width="2" stroke-linecap="square"/>
<line x1="1003.5" y1="436.5" x2="1011.5" y2="438.5" stroke="#FF0000" stroke-width="2" stroke-linecap="square"/>
<line x1="1011.5" y1="438.5" x2="1019.5" y2="440.5" stroke="#FF0000" stroke-width="2" stroke-linecap="square"/>
<line x1="1019.5" y1="440.5" x2="1027.5" y2="441.9" stroke="#FF0000" stroke-width="2" stroke-linecap="square"/>
<line x1="1027.5" y1="441.9" x2="1035.5" y2="442.4" stroke="#FF0000" stroke-width="2" stroke-linecap="square"/>
<line x1="1035.5" y1="442.4" x2="1043.5" y2="442.7" stroke="#FF0000" stroke-width="2" stroke-linecap="square"/>
<line x1="1043.5" y1="442.7" x2="1051.5" y2="442.9" stroke="#FF0000" stroke-width="2" stroke-linecap="square"/>
<line x1="1051.5" y1="442.9" x2="1059.5" y2="443.0" stroke="#FF0000" stroke-width="2" stroke-linecap="square"/>
<line x1="1059.5" y1="443.0" x2="1067.5" y2="442.8" stroke="#008000" stroke-width="2" stroke-linecap="square"/>
<line x1="1067.5" y1="442.8" x2="1075.5" y2="442.6" stroke="#008000" stroke-width="2" stroke-linecap="square"/>
<line x1="1075.5" y1="442.6" x2="1083.5" y2="442.2" stroke="#008000" stroke-width="2" stroke-linecap="square"/>
<line x1="1083.5" y1="442.2" x2="1091.5" y2="441.9" stroke="#008000" stroke-width="2" stroke-linecap="square"/>
<line x1="1091.5" y1="441.9" x2="1099.5" y2="442.1" stroke="#FF0000" stroke-width="2" stroke-linecap="square"/>
<line x1="1099.5" y1="442.1" x2="1107.5" y2="442.3" stroke="#FF0000" stroke-width="2" stroke-linecap="square"/>
<line x1="1107.5" y1="442.3" x2="1115.5" y2="441.9" stroke="#008000" stroke-width="2" stroke-linecap="square"/>
<line x1="1115.5" y1="441.9" x2="1123.5" y2="441.5" stroke="#008000" stroke-width="2" stroke-linecap="square"/>
<line x1="1123.5" y1="441.5" x2="1131.5" y2="440.5" stroke="#008000" stroke-width="2" stroke-linecap="square"/>
<line x1="1131.5" y1="440.5" x2="1139.5" y2="439.5" stroke="#008000" stroke-width="2" stroke-linecap="square"/>
<line x1="1139.5" y1="439.5" x2="1147.5" y2="437.9" stroke="#008000" stroke-width="2" stroke-linecap="square"/>
<line x1="1147.5" y1="437.9" x2="1155.5" y2="435.9" stroke="#008000" stroke-width="2" stroke-linecap="square"/>
<line x1="1155.5" y1="435.9" x2="1163.5" y2="433.3" stroke="#008000" stroke-width="2" stroke-linecap="square"/>
<line x1="1163.5" y1="433.3" x2="1171.5" y2="429.9" stroke="#008000" stroke-width="2" stroke-linecap="square"/>
<line x1="1171.5" y1="429.9" x2="1179.5" y2="427.9" stroke="#008000" stroke-width="2" stroke-linecap="square"/>
</g><g clip-path="url(#c3)">
<rect x="2" y="495" width="3" height="16" fill="#DC143C"/>
<rect x="10" y="495" width="3" height="19" fill="#DC143C"/>
<rect x="18" y="495" width="3" height="22" fill="#DC143C"/>
<rect x="26" y="495" width="3" height="24" fill="#DC143C"/>
<rect x="34" y="495" width="3" height="27" fill="#DC143C"/>
<rect x="42" y="495" width="3" height="29" fill="#DC143C"/>
<rect x="50" y="495" width="3" height="31" fill="#DC143C"/>
<rect x="58" y="495" width="3" height="31" fill="#DC143C"/>
<rect x="66" y="495" width="3" height="33" fill="#DC143C"/>
<rect x="74" y="495" width="3" height="33" fill="#DC143C"/>
<rect x="82" y="495" width="3" height="34" fill="#DC143C"/>
<rect x="90" y="495" width="3" height="35" fill="#DC143C"/>
<rect x="98" y="495" width="3" height="35" fill="#DC143C"/>
<rect x="107" y="495" width="1" height="34" fill="#FF0000"/>
<rect x="115" y="495" width="1" height="33" fill="#FF0000"/>
<rect x="123" y="495" width="1" height="30" fill="#FF0000"/>
<rect x="131" y="495" width="1" height="28" fill="#FF0000"/>
<rect x="139" y="495" width="1" height="25" fill="#FF0000"/>
<rect x="147" y="495" width="1" height="23" fill="#FF0000"/>
<rect x="155" y="495" width="1" height="20" fill="#FF0000"/>
<rect x="163" y="495" width="1" height="17" fill="#FF0000"/>
<rect x="171" y="495" width="1" height="14" fill="#FF0000"/>
<rect x="179" y="495" width="1" height="11" fill="#FF0000"/>
<rect x="187" y="495" width="1" height="10" fill="#FF0000"/>
<rect x="195" y="495" width="1" height="10" fill="#FF0000"/>
<rect x="203" y="495" width="1" height="9" fill="#FF0000"/>
<rect x="211" y="495" width="1" height="8" fill="#FF0000"/>
<rect x="219" y="495" width="1" height="7" fill="#FF0000"/>
<rect x="227" y="495" width="1" height="6" fill="#FF0000"/>
<rect x="235" y="495" width="1" height="6" fill="#FF0000"/>
<rect x="243" y="495" width="1" height="5" fill="#FF0000"/>
<rect x="251" y="495" width="1" height="4" fill="#FF0000"/>
<rect x="259" y="495" width="1" height="3" fill="#FF0000"/>
<rect x="267" y="495" width="1" height="3" fill="#FF0000"/>
<rect x="275" y="495" width="1" height="3" fill="#FF0000"/>
<rect x="282" y="495" width="3" height="4" fill="#DC143C"/>
<rect x="290" y="495" width="3" height="4" fill="#DC143C"/>
<rect x="298" y="495" width="3" height="5" fill="#DC143C"/>
<rect x="306" y="495" width="3" height="5" fill="#DC143C"/>
<rect x="315" y="495" width="1" height="4" fill="#FF0000"/>
<rect x="323" y="495" width="1" height="4" fill="#FF0000"/>
<rect x="331" y="495" width="1" height="4" fill="#FF0000"/>
<rect x="339" y="495" width="1" height="3" fill="#FF0000"/>
<rect x="346" y="495" width="3" height="4" fill="#DC143C"/>
<rect x="354" y="495" width="3" height="4" fill="#DC143C"/>
<rect x="363" y="495" width="1" height="4" fill="#FF0000"/>
<rect x="371" y="495" width="1" height="3" fill="#FF0000"/>
<rect x="379" y="495" width="1" height="2" fill="#FF0000"/>
<rect x="387" y="495" width="1" height="2" fill="#FF0000"/>
<rect x="395" y="495" width="1" height="1" fill="#FF0000"/>
<rect x="418" y="494" width="3" height="1" fill="#006400"/>
<rect x="426" y="495" width="3" height="1" fill="#DC143C"/>
<rect x="434" y="495" width="3" height="2" fill="#DC143C"/>
<rect x="442" y="495" width="3" height="3" fill="#DC143C"/>
<rect x="450" y="495" width="3" height="4" fill="#DC143C"/>
<rect x="458" y="495" width="3" height="6" fill="#DC143C"/>
<rect x="466" y="495" width="3" height="9" fill="#DC143C"/>
<rect x="474" y="495" width="3" height="12" fill="#DC143C"/>
<rect x="482" y="495" width="3" height="15" fill="#DC143C"/>
<rect x="490" y="495" width="3" height="17" fill="#DC143C"/>
<rect x="498" y="495" width="3" height="21" fill="#DC143C"/>
<rect x="506" y="495" width="3" height="25" fill="#DC143C"/>
<rect x="514" y="495" width="3" height="29" fill="#DC143C"/>
<rect x="522" y="495" width="3" height="33" fill="#DC143C"/>
<rect x="530" y="495" width="3" height="36" fill="#DC143C"/>
<rect x="538" y="495" width="3" height="39" fill="#DC143C"/>
<rect x="546" y="495" width="3" height="42" fill="#DC143C"/>
<rect x="554" y="495" width="3" height="45" fill="#DC143C"/>
<rect x="562" y="495" width="3" height="48" fill="#DC143C"/>
<rect x="570" y="495" width="3" height="52" fill="#DC143C"/>
<rect x="578" y="495" width="3" height="55" fill="#DC143C"/>
<rect x="586" y="495" width="3" height="59" fill="#DC143C"/>
<rect x="594" y="495" width="3" height="62" fill="#DC143C"/>
<rect x="602" y="495" width="3" height="66" fill="#DC143C"/>
<rect x="610" y="495" width="3" height="70" fill="#DC143C"/>
<rect x="618" y="495" width="3" height="74" fill="#DC143C"/>
<rect x="626" y="495" width="3" height="77" fill="#DC143C"/>
<rect x="634" y="495" width="3" height="81" fill="#DC143C"/>
<rect x="642" y="495" width="3" height="86" fill="#DC143C"/>
<rect x="650" y="495" width="3" height="89" fill="#DC143C"/>
<rect x="658" y="495" width="3" height="91" fill="#DC143C"/>
<rect x="666" y="495" width="3" height="95" fill="#DC143C"/>
<rect x="674" y="495" width="3" height="99" fill="#DC143C"/>
<rect x="682" y="495" width="3" height="99" fill="#DC143C"/>
<rect x="690" y="495" width="3" height="99" fill="#DC143C"/>
<rect x="698" y="495" width="3" height="99" fill="#DC143C"/>
<rect x="706" y="495" width="3" height="99" fill="#DC143C"/>
<rect x="715" y="495" width="1" height="99" fill="#FF0000"/>
<rect x="723" y="495" width="1" height="98" fill="#FF0000"/>
<rect x="731" y="495" width="1" height="97" fill="#FF0000"/>
<rect x="739" y="495" width="1" height="96" fill="#FF0000"/>
<rect x="747" y="495" width="1" height="95" fill="#FF0000"/>
<rect x="755" y="495" width="1" height="94" fill="#FF0000"/>
<rect x="763" y="495" width="1" height="93" fill="#FF0000"/>
<rect x="771" y="495" width="1" height="91" fill="#FF0000"/>
<rect x="779" y="495" width="1" height="90" fill="#FF0000"/>
<rect x="787" y="495" width="1" height="89" fill="#FF0000"/>
<rect x="795" y="495" width="1" height="87" fill="#FF0000"/>
<rect x="803" y="495" width="1" height="86" fill="#FF0000"/>
<rect x="811" y="495" width="1" height="84" fill="#FF0000"/>
<rect x="819" y="495" width="1" height="82" fill="#FF0000"/>
<rect x="827" y="495" width="1" height="79" fill="#FF0000"/>
<rect x="835" y="495" width="1" height="74" fill="#FF0000"/>
<rect x="843" y="495" width="1" height="70" fill="#FF0000"/>
<rect x="851" y="495" width="1" height="66" fill="#FF0000"/>
<rect x="859" y="495" width="1" height="61" fill="#FF0000"/>
<rect x="867" y="495" width="1" height="57" fill="#FF0000"/>
<rect x="875" y="495" width="1" height="54" fill="#FF0000"/>
<rect x="883" y="495" width="1" height="50" fill="#FF0000"/>
<rect x="891" y="495" width="1" height="47" fill="#FF0000"/>
<rect x="899" y="495" width="1" height="45" fill="#FF0000"/>
<rect x="907" y="495" width="1" height="41" fill="#FF0000"/>
<rect x="915" y="495" width="1" height="38" fill="#FF0000"/>
<rect x="923" y="495" width="1" height="36" fill="#FF0000"/>
<rect x="931" y="495" width="1" height="34" fill="#FF0000"/>
<rect x="939" y="495" width="1" height="32" fill="#FF0000"/>
<rect x="947" y="495" width="1" height="30" fill="#FF0000"/>
<rect x="955" y="495" width="1" height="29" fill="#FF0000"/>
<rect x="963" y="495" width="1" height="27" fill="#FF0000"/>
<rect x="971" y="495" width="1" height="25" fill="#FF0000"/>
<rect x="979" y="495" width="1" height="21" fill="#FF0000"/>
<rect x="987" y="495" width="1" height="19" fill="#FF0000"/>
<rect x="995" y="495" width="1" height="17" fill="#FF0000"/>
<rect x="1003" y="495" width="1" height="15" fill="#FF0000"/>
<rect x="1011" y="495" width="1" height="13" fill="#FF0000"/>
<rect x="1019" y="495" width="1" height="11" fill="#FF0000"/>
<rect x="1027" y="495" width="1" height="10" fill="#FF0000"/>
<rect x="1035" y="495" width="1" height="8" fill="#FF0000"/>
<rect x="1043" y="495" width="1" height="6" fill="#FF0000"/>
<rect x="1051" y="495" width="1" height="4" fill="#FF0000"/>
<rect x="1059" y="495" width="1" height="3" fill="#FF0000"/>
<rect x="1067" y="495" width="1" height="2" fill="#FF0000"/>
<rect x="1082" y="494" width="3" height="1" fill="#006400"/>
<rect x="1090" y="494" width="3" height="1" fill="#006400"/>
<rect x="1099" y="494" width="1" height="1" fill="#00FF00"/>
<rect x="1107" y="494" width="1" height="1" fill="#00FF00"/>
<rect x="1114" y="494" width="3" height="1" fill="#006400"/>
<rect x="1122" y="494" width="3" height="1" fill="#006400"/>
<rect x="1130" y="493" width="3" height="2" fill="#006400"/>
<rect x="1138" y="493" width="3" height="2" fill="#006400"/>
<rect x="1146" y="492" width="3" height="3" fill="#006400"/>
<rect x="1154" y="491" width="3" height="4" fill="#006400"/>
<rect x="1162" y="491" width="3" height="4" fill="#006400"/>
<rect x="1170" y="490" width="3" height="5" fill="#006400"/>
<rect x="1178" y="490" width="3" height="5" fill="#006400"/>
<line x1="3.5" y1="510.6" x2="11.5" y2="514" stroke="#FF0000" stroke-width="2" stroke-linecap="square"/>
<line x1="11.5" y1="514" x2="19.5" y2="517" stroke="#FF0000" stroke-width="2" stroke-linecap="square"/>
<line x1="19.5" y1="517" x2="27.5" y2="519" stroke="#FF0000" stroke-width="2" stroke-linecap="square"/>
<line x1="27.5" y1="519" x2="35.5" y2="522" stroke="#FF0000" stroke-width="2" stroke-linecap="square"/>
<line x1="35.5" y1="522" x2="43.5" y2="524.3" stroke="#FF0000" stroke-width="2" stroke-linecap="square"/>
<line x1="43.5" y1="524.3" x2="51.5" y2="525.5" stroke="#FF0000" stroke-width="2" stroke-linecap="square"/>
<line x1="51.5" y1="525.5" x2="59.5" y2="526.5" stroke="#FF0000" stroke-width="2" stroke-linecap="square"/>
<line x1="59.5" y1="526.5" x2="67.5" y2="527.5" stroke="#FF0000" stroke-width="2" stroke-linecap="square"/>
<line x1="67.5" y1="527.5" x2="75.5" y2="528.5" stroke="#FF0000" stroke-width="2" stroke-linecap="square"/>
<line x1="75.5" y1="528.5" x2="83.5" y2="529.3" stroke="#FF0000" stroke-width="2" stroke-linecap="square"/>
<line x1="83.5" y1="529.3" x2="91.5" y2="529.5" stroke="#FF0000" stroke-width="2" stroke-linecap="square"/>
<line x1="91.5" y1="529.5" x2="99.5" y2="529.7" stroke="#FF0000" stroke-width="2" stroke-linecap="square"/>
<line x1="99.5" y1="529.7" x2="107.5" y2="529.3" stroke="#008000" stroke-width="2" stroke-linecap="square"/>
<line x1="107.5" y1="529.3" x2="115.5" y2="528.5" stroke="#008000" stroke-width="2" stroke-linecap="square"/>
<line x1="115.5" y1="528.5" x2="123.5" y2="525.3" stroke="#008000" stroke-width="2" stroke-linecap="square"/>
<line x1="123.5" y1="525.3" x2="131.5" y2="523.3" stroke="#008000" stroke-width="2" stroke-linecap="square"/>
<line x1="131.5" y1="523.3" x2="139.5" y2="520.5" stroke="#008000" stroke-width="2" stroke-linecap="square"/>
<line x1="139.5" y1="520.5" x2="147.5" y2="517.5" stroke="#008000" stroke-width="2" stroke-linecap="square"/>
<line x1="147.5" y1="517.5" x2="155.5" y2="514.6" stroke="#008000" stroke-width="2" stroke-linecap="square"/>
<line x1="155.5" y1="514.6" x2="163.5" y2="511.6" stroke="#008000" stroke-width="2" stroke-linecap="square"/>
<line x1="163.5" y1="511.6" x2="171.5" y2="508.6" stroke="#008000" stroke-width="2" stroke-linecap="square"/>
<line x1="171.5" y1="508.6" x2="179.5" y2="506" stroke="#008000" stroke-width="2" stroke-linecap="square"/>
<line x1="179.5" y1="506" x2="187.5" y2="505.4" stroke="#008000" stroke-width="2" stroke-linecap="square"/>
<line x1="187.5" y1="505.4" x2="195.5" y2="504.6" stroke="#008000" stroke-width="2" stroke-linecap="square"/>
<line x1="195.5" y1="504.6" x2="203.5" y2="504" stroke="#008000" stroke-width="2" stroke-linecap="square"/>
<line x1="203.5" y1="504" x2="211.5" y2="503" stroke="#008000" stroke-width="2" stroke-linecap="square"/>
<line x1="211.5" y1="503" x2="219.5" y2="502" stroke="#008000" stroke-width="2" stroke-linecap="square"/>
<line x1="219.5" y1="502" x2="227.5" y2="501.4" stroke="#008000" stroke-width="2" stroke-linecap="square"/>
<line x1="227.5" y1="501.4" x2="235.5" y2="501" stroke="#008000" stroke-width="2" stroke-linecap="square"/>
<line x1="235.5" y1="501" x2="243.5" y2="500" stroke="#008000" stroke-width="2" stroke-linecap="square"/>
<line x1="243.5" y1="500" x2="251.5" y2="499" stroke="#008000" stroke-width="2" stroke-linecap="square"/>
<line x1="251.5" y1="499" x2="259.5" y2="498.2" stroke="#008000" stroke-width="2" stroke-linecap="square"/>
<line x1="259.5" y1="498.2" x2="267.5" y2="497.8" stroke="#008000" stroke-width="2" stroke-linecap="square"/>
<line x1="267.5" y1="497.8" x2="275.5" y2="497.5" stroke="#008000" stroke-width="2" stroke-linecap="square"/>
<line x1="275.5" y1="497.5" x2="283.5" y2="498.6" stroke="#FF0000" stroke-width="2" stroke-linecap="square"/>
<line x1="283.5" y1="498.6" x2="291.5" y2="499.3" stroke="#FF0000" stroke-width="2" stroke-linecap="square"/>
<line x1="291.5" y1="499.3" x2="299.5" y2="499.6" stroke="#FF0000" stroke-width="2" stroke-linecap="square"/>
<line x1="299.5" y1="499.6" x2="307.5" y2="499.9" stroke="#FF0000" stroke-width="2" stroke-linecap="square"/>
<line x1="307.5" y1="499.9" x2="315.5" y2="499.4" stroke="#008000" stroke-width="2" stroke-linecap="square"/>
<line x1="315.5" y1="499.4" x2="323.5" y2="499" stroke="#008000" stroke-width="2" stroke-linecap="square"/>
<line x1="323.5" y1="499" x2="331.5" y2="498.6" stroke="#008000" stroke-width="2" stroke-linecap="square"/>
<line x1="331.5" y1="498.6" x2="339.5" y2="498.4" stroke="#008000" stroke-width="2" stroke-linecap="square"/>
<line x1="339.5" y1="498.4" x2="347.5" y2="498.8" stroke="#FF0000" stroke-width="2" stroke-linecap="square"/>
<line x1="347.5" y1="498.8" x2="355.5" y2="499.1" stroke="#FF0000" stroke-width="2" stroke-linecap="square"/>
<line x1="355.5" y1="499.1" x2="363.5" y2="498.6" stroke="#008000" stroke-width="2" stroke-linecap="square"/>
<line x1="363.5" y1="498.6" x2="371.5" y2="498" stroke="#008000" stroke-width="2" stroke-linecap="square"/>
<line x1="371.5" y1="498" x2="379.5" y2="497.4" stroke="#008000" stroke-width="2" stroke-linecap="square"/>
<line x1="379.5" y1="497.4" x2="387.5" y2="496.6" stroke="#008000" stroke-width="2" stroke-linecap="square"/>
<line x1="387.5" y1="496.6" x2="395.5" y2="496" stroke="#008000" stroke-width="2" stroke-linecap="square"/>
<line x1="395.5" y1="496" x2="403.5" y2="495" stroke="#008000" stroke-width="2" stroke-linecap="square"/>
<line x1="403.5" y1="495" x2="411.5" y2="494.6" stroke="#008000" stroke-width="2" stroke-linecap="square"/>
<line x1="411.5" y1="494.6" x2="419.5" y2="494.4" stroke="#008000" stroke-width="2" stroke-linecap="square"/>
<line x1="419.5" y1="494.4" x2="427.5" y2="495.5" stroke="#FF0000" stroke-width="2" stroke-linecap="square"/>
<line x1="427.5" y1="495.5" x2="435.5" y2="496.6" stroke="#FF0000" stroke-width="2" stroke-linecap="square"/>
<line x1="435.5" y1="496.6" x2="443.5" y2="498" stroke="#FF0000" stroke-width="2" stroke-linecap="square"/>
<line x1="443.5" y1="498" x2="451.5" y2="499" stroke="#FF0000" stroke-width="2" stroke-linecap="square"/>
<line x1="451.5" y1="499" x2="459.5" y2="501" stroke="#FF0000" stroke-width="2" stroke-linecap="square"/>
<line x1="459.5" y1="501" x2="467.5" y2="504" stroke="#FF0000" stroke-width="2" stroke-linecap="square"/>
<line x1="467.5" y1="504" x2="475.5" y2="506.6" stroke="#FF0000" stroke-width="2" stroke-linecap="square"/>
<line x1="475.5" y1="506.6" x2="483.5" y2="510" stroke="#FF0000" stroke-width="2" stroke-linecap="square"/>
<line x1="483.5" y1="510" x2="491.5" y2="512" stroke="#FF0000" stroke-width="2" stroke-linecap="square"/>
<line x1="491.5" y1="512" x2="499.5" y2="516.2" stroke="#FF0000" stroke-width="2" stroke-linecap="square"/>
<line x1="499.5" y1="516.2" x2="507.5" y2="520.4" stroke="#FF0000" stroke-width="2" stroke-linecap="square"/>
<line x1="507.5" y1="520.4" x2="515.5" y2="523.8" stroke="#FF0000" stroke-width="2" stroke-linecap="square"/>
<line x1="515.5" y1="523.8" x2="523.5" y2="527.5" stroke="#FF0000" stroke-width="2" stroke-linecap="square"/>
<line x1="523.5" y1="527.5" x2="531.5" y2="530.6" stroke="#FF0000" stroke-width="2" stroke-linecap="square"/>
<line x1="531.5" y1="530.6" x2="539.5" y2="533.6" stroke="#FF0000" stroke-width="2" stroke-linecap="square"/>
<line x1="539.5" y1="533.6" x2="547.5" y2="537" stroke="#FF0000" stroke-width="2" stroke-linecap="square"/>
<line x1="547.5" y1="537" x2="555.5" y2="540.4" stroke="#FF0000" stroke-width="2" stroke-linecap="square"/>
<line x1="555.5" y1="540.4" x2="563.5" y2="543.3" stroke="#FF0000" stroke-width="2" stroke-linecap="square"/>
<line x1="563.5" y1="543.3" x2="571.5" y2="546.6" stroke="#FF0000" stroke-width="2" stroke-linecap="square"/>
<line x1="571.5" y1="546.6" x2="579.5" y2="550.5" stroke="#FF0000" stroke-width="2" stroke-linecap="square"/>
<line x1="579.5" y1="550.5" x2="587.5" y2="553.9" stroke="#FF0000" stroke-width="2" stroke-linecap="square"/>
<line x1="587.5" y1="553.9" x2="595.5" y2="557.3" stroke="#FF0000" stroke-width="2" stroke-linecap="square"/>
<line x1="595.5" y1="557.3" x2="603.5" y2="560.9" stroke="#FF0000" stroke-width="2" stroke-linecap="square"/>
<line x1="603.5" y1="560.9" x2="611.5" y2="564.9" stroke="#FF0000" stroke-width="2" stroke-linecap="square"/>
<line x1="611.5" y1="564.9" x2="619.5" y2="568.9" stroke="#FF0000" stroke-width="2" stroke-linecap="square"/>
<line x1="619.5" y1="568.9" x2="627.5" y2="572.5" stroke="#FF0000" stroke-width="2" stroke-linecap="square"/>
<line x1="627.5" y1="572.5" x2="635.5" y2="576.5" stroke="#FF0000" stroke-width="2" stroke-linecap="square"/>
<line x1="635.5" y1="576.5" x2="643.5" y2="580.9" stroke="#FF0000" stroke-width="2" stroke-linecap="square"/>
<line x1="643.5" y1="580.9" x2="651.5" y2="583.9" stroke="#FF0000" stroke-width="2" stroke-linecap="square"/>
<line x1="651.5" y1="583.9" x2="659.5" y2="585.9" stroke="#FF0000" stroke-width="2" stroke-linecap="square"/>
<line x1="659.5" y1="585.9" x2="667.5" y2="589.8" stroke="#FF0000" stroke-width="2" stroke-linecap="square"/>
<line x1="667.5" y1="589.8" x2="675.5" y2="593.5" stroke="#FF0000" stroke-width="2" stroke-linecap="square"/>
<line x1="675.5" y1="593.5" x2="683.5" y2="593.7" stroke="#FF0000" stroke-width="2" stroke-linecap="square"/>
<line x1="683.5" y1="593.7" x2="691.5" y2="593.8" stroke="#FF0000" stroke-width="2" stroke-linecap="square"/>
<line x1="691.5" y1="593.8" x2="699.5" y2="593.9" stroke="#FF0000" stroke-width="2" stroke-linecap="square"/>
<line x1="699.5" y1="593.9" x2="707.5" y2="594.0" stroke="#FF0000" stroke-width="2" stroke-linecap="square"/>
<line x1="707.5" y1="594.0" x2="715.5" y2="593.8" stroke="#008000" stroke-width="2" stroke-linecap="square"/>
<line x1="715.5" y1="593.8" x2="723.5" y2="593.2" stroke="#008000" stroke-width="2" stroke-linecap="square"/>
<line x1="723.5" y1="593.2" x2="731.5" y2="591.8" stroke="#008000" stroke-width="2" stroke-linecap="square"/>
<line x1="731.5" y1="591.8" x2="739.5" y2="590.8" stroke="#008000" stroke-width="2" stroke-linecap="square"/>
<line x1="739.5" y1="590.8" x2="747.5" y2="589.8" stroke="#008000" stroke-width="2" stroke-linecap="square"/>
<line x1="747.5" y1="589.8" x2="755.5" y2="588.8" stroke="#008000" stroke-width="2" stroke-linecap="square"/>
<line x1="755.5" y1="588.8" x2="763.5" y2="587.8" stroke="#008000" stroke-width="2" stroke-linecap="square"/>
<line x1="763.5" y1="587.8" x2="771.5" y2="585.9" stroke="#008000" stroke-width="2" stroke-linecap="square"/>
<line x1="771.5" y1="585.9" x2="779.5" y2="584.9" stroke="#008000" stroke-width="2" stroke-linecap="square"/>
<line x1="779.5" y1="584.9" x2="787.5" y2="583.9" stroke="#008000" stroke-width="2" stroke-linecap="square"/>
<line x1="787.5" y1="583.9" x2="795.5" y2="582.5" stroke="#008000" stroke-width="2" stroke-linecap="square"/>
<line x1="795.5" y1="582.5" x2="803.5" y2="581.3" stroke="#008000" stroke-width="2" stroke-linecap="square"/>
<line x1="803.5" y1="581.3" x2="811.5" y2="579.3" stroke="#008000" stroke-width="2" stroke-linecap="square"/>
<line x1="811.5" y1="579.3" x2="819.5" y2="577.3" stroke="#008000" stroke-width="2" stroke-linecap="square"/>
<line x1="819.5" y1="577.3" x2="827.5" y2="573.9" stroke="#008000" stroke-width="2" stroke-linecap="square"/>
<line x1="827.5" y1="573.9" x2="835.5" y2="569.3" stroke="#008000" stroke-width="2" stroke-linecap="square"/>
<line x1="835.5" y1="569.3" x2="843.5" y2="564.9" stroke="#008000" stroke-width="2" stroke-linecap="square"/>
<line x1="843.5" y1="564.9" x2="851.5" y2="560.9" stroke="#008000" stroke-width="2" stroke-linecap="square"/>
<line x1="851.5" y1="560.9" x2="859.5" y2="556.5" stroke="#008000" stroke-width="2" stroke-linecap="square"/>
<line x1="859.5" y1="556.5" x2="867.5" y2="552.5" stroke="#008000" stroke-width="2" stroke-linecap="square"/>
<line x1="867.5" y1="552.5" x2="875.5" y2="548.9" stroke="#008000" stroke-width="2" stroke-linecap="square"/>
<line x1="875.5" y1="548.9" x2="883.5" y2="545.3" stroke="#008000" stroke-width="2" stroke-linecap="square"/>
<line x1="883.5" y1="545.3" x2="891.5" y2="541.9" stroke="#008000" stroke-width="2" stroke-linecap="square"/>
<line x1="891.5" y1="541.9" x2="899.5" y2="539.5" stroke="#008000" stroke-width="2" stroke-linecap="square"/>
<line x1="899.5" y1="539.5" x2="907.5" y2="536.5" stroke="#008000" stroke-width="2" stroke-linecap="square"/>
<line x1="907.5" y1="536.5" x2="915.5" y2="533.3" stroke="#008000" stroke-width="2" stroke-linecap="square"/>
<line x1="915.5" y1="533.3" x2="923.5" y2="531.3" stroke="#008000" stroke-width="2" stroke-linecap="square"/>
<line x1="923.5" y1="531.3" x2="931.5" y2="529.3" stroke="#008000" stroke-width="2" stroke-linecap="square"/>
<line x1="931.5" y1="529.3" x2="939.5" y2="527.3" stroke="#008000" stroke-width="2" stroke-linecap="square"/>
<line x1="939.5" y1="527.3" x2="947.5" y2="525.3" stroke="#008000" stroke-width="2" stroke-linecap="square"/>
<line x1="947.5" y1="525.3" x2="955.5" y2="523.5" stroke="#008000" stroke-width="2" stroke-linecap="square"/>
<line x1="955.5" y1="523.5" x2="963.5" y2="521.5" stroke="#008000" stroke-width="2" stroke-linecap="square"/>
<line x1="963.5" y1="521.5" x2="971.5" y2="519.5" stroke="#008000" stroke-width="2" stroke-linecap="square"/>
<line x1="971.5" y1="519.5" x2="979.5" y2="516.5" stroke="#008000" stroke-width="2" stroke-linecap="square"/>
<line x1="979.5" y1="516.5" x2="987.5" y2="514" stroke="#008000" stroke-width="2" stroke-linecap="square"/>
<line x1="987.5" y1="514" x2="995.5" y2="512" stroke="#008000" stroke-width="2" stroke-linecap="square"/>
<line x1="995.5" y1="512" x2="1003.5" y2="510" stroke="#008000" stroke-width="2" stroke-linecap="square"/>
<line x1="1003.5" y1="510" x2="1011.5" y2="508" stroke="#008000" stroke-width="2" stroke-linecap="square"/>
<line x1="1011.5" y1="508" x2="1019.5" y2="506.4" stroke="#008000" stroke-width="2" stroke-linecap="square"/>
<line x1="1019.5" y1="506.4" x2="1027.5" y2="505.4" stroke="#008000" stroke-width="2" stroke-linecap="square"/>
<line x1="1027.5" y1="505.4" x2="1035.5" y2="503.4" stroke="#008000" stroke-width="2" stroke-linecap="square"/>
<line x1="1035.5" y1="503.4" x2="1043.5" y2="501" stroke="#008000" stroke-width="2" stroke-linecap="square"/>
<line x1="1043.5" y1="501" x2="1051.5" y2="499" stroke="#008000" stroke-width="2" stroke-linecap="square"/>
<line x1="1051.5" y1="499" x2="1059.5" y2="498" stroke="#008000" stroke-width="2" stroke-linecap="square"/>
<line x1="1059.5" y1="498" x2="1067.5" y2="497" stroke="#008000" stroke-width="2" stroke-linecap="square"/>
<line x1="1067.5" y1="497" x2="1075.5" y2="495.4" stroke="#008000" stroke-width="2" stroke-linecap="square"/>
<line x1="1075.5" y1="495.4" x2="1083.5" y2="494" stroke="#008000" stroke-width="2" stroke-linecap="square"/>
<line x1="1083.5" y1="494" x2="1091.5" y2="493.8" stroke="#008000" stroke-width="2" stroke-linecap="square"/>
<line x1="1091.5" y1="493.8" x2="1099.5" y2="494.0" stroke="#FF0000" stroke-width="2" stroke-linecap="square"/>
<line x1="1099.5" y1="494.0" x2="1107.5" y2="494.2" stroke="#FF0000" stroke-width="2" stroke-linecap="square"/>
<line x1="1107.5" y1="494.2" x2="1115.5" y2="494.0" stroke="#008000" stroke-width="2" stroke-linecap="square"/>
<line x1="1115.5" y1="494.0" x2="1123.5" y2="493.6" stroke="#008000" stroke-width="2" stroke-linecap="square"/>
<line x1="1123.5" y1="493.6" x2="1131.5" y2="493" stroke="#008000" stroke-width="2" stroke-linecap="square"/>
<line x1="1131.5" y1="493" x2="1139.5" y2="492.6" stroke="#008000" stroke-width="2" stroke-linecap="square"/>
<line x1="1139.5" y1="492.6" x2="1147.5" y2="492" stroke="#008000" stroke-width="2" stroke-linecap="square"/>
<line x1="1147.5" y1="492" x2="1155.5" y2="491.4" stroke="#008000" stroke-width="2" stroke-linecap="square"/>
<line x1="1155.5" y1="491.4" x2="1163.5" y2="490.6" stroke="#008000" stroke-width="2" stroke-linecap="square"/>
<line x1="1163.5" y1="490.6" x2="1171.5" y2="490" stroke="#008000" stroke-width="2" stroke-linecap="square"/>
<line x1="1171.5" y1="490" x2="1179.5" y2="489.6" stroke="#008000" stroke-width="2" stroke-linecap="square"/>
</g>
<line x1="427.5" y1="3" x2="427.5" y2="600" stroke="#505050" stroke-width="1" stroke-dasharray="3 3" clip-path="url(#sub)"/>
<line x1="715.5" y1="3" x2="715.5" y2="600" stroke="#505050" stroke-width="1" stroke-dasharray="3 3" clip-path="url(#sub)"/>
<line x1="899.5" y1="3" x2="899.5" y2="600" stroke="#505050" stroke-width="1" stroke-dasharray="3 3" clip-path="url(#sub)"/>
<rect x="2.5" y="2.5" width="1314" height="308" fill="none" stroke="#000" stroke-width="1"/>
<rect x="2.5" y="312.5" width="1314" height="49" fill="none" stroke="#000" stroke-width="1"/>
<rect x="2.5" y="363.5" width="1314" height="118" fill="none" stroke="#000" stroke-width="1"/>
<rect x="2.5" y="483.5" width="1314" height="117" fill="none" stroke="#000" stroke-width="1"/>
<rect x="1317" y="10" width="2" height="1" fill="#000"/>
<text x="1322.60" y="14" font-size="10.2" fill="#000" stroke="#000" stroke-width="0.2" textLength="32.40" lengthAdjust="spacingAndGlyphs">1.86870</text>
<rect x="1317" y="43" width="2" height="1" fill="#000"/>
<text x="1322.60" y="47" font-size="10.2" fill="#000" stroke="#000" stroke-width="0.2" textLength="32.40" lengthAdjust="spacingAndGlyphs">1.86440</text>
<rect x="1317" y="76" width="2" height="1" fill="#000"/>
<text x="1322.60" y="80" font-size="10.2" fill="#000" stroke="#000" stroke-width="0.2" textLength="32.40" lengthAdjust="spacingAndGlyphs">1.86020</text>
<rect x="1317" y="109" width="2" height="1" fill="#000"/>
<text x="1322.60" y="113" font-size="10.2" fill="#000" stroke="#000" stroke-width="0.2" textLength="32.40" lengthAdjust="spacingAndGlyphs">1.85600</text>
<rect x="1317" y="142" width="2" height="1" fill="#000"/>
<text x="1322.60" y="146" font-size="10.2" fill="#000" stroke="#000" stroke-width="0.2" textLength="32.40" lengthAdjust="spacingAndGlyphs">1.85170</text>
<rect x="1317" y="175" width="2" height="1" fill="#000"/>
<text x="1322.60" y="179" font-size="10.2" fill="#000" stroke="#000" stroke-width="0.2" textLength="32.40" lengthAdjust="spacingAndGlyphs">1.84750</text>
<rect x="1317" y="208" width="2" height="1" fill="#000"/>
<text x="1322.60" y="212" font-size="10.2" fill="#000" stroke="#000" stroke-width="0.2" textLength="32.40" lengthAdjust="spacingAndGlyphs">1.84330</text>
<rect x="1317" y="241" width="2" height="1" fill="#000"/>
<text x="1322.60" y="245" font-size="10.2" fill="#000" stroke="#000" stroke-width="0.2" textLength="32.40" lengthAdjust="spacingAndGlyphs">1.83910</text>
<rect x="1317" y="274" width="2" height="1" fill="#000"/>
<text x="1322.60" y="278" font-size="10.2" fill="#000" stroke="#000" stroke-width="0.2" textLength="32.40" lengthAdjust="spacingAndGlyphs">1.83480</text>
<rect x="1317" y="307" width="2" height="1" fill="#000"/>
<text x="1322.60" y="311" font-size="10.2" fill="#000" stroke="#000" stroke-width="0.2" textLength="32.40" lengthAdjust="spacingAndGlyphs">1.83060</text>
<rect x="1318" y="240" width="41" height="11" fill="#000"/>
<rect x="1317" y="241" width="1" height="1" fill="#000"/>
<text x="1322.40" y="249" font-size="10.2" fill="#fff" textLength="32.60" lengthAdjust="spacingAndGlyphs">1.83852</text>
<rect x="1317" y="314" width="1" height="1" fill="#000"/>
<text x="1320.20" y="323" font-size="10.2" fill="#000" stroke="#000" stroke-width="0.2" textLength="4.80" lengthAdjust="spacingAndGlyphs">5</text>
<rect x="1317" y="360" width="1" height="1" fill="#000"/>
<text x="1320.20" y="358" font-size="10.2" fill="#000" stroke="#000" stroke-width="0.2" textLength="4.80" lengthAdjust="spacingAndGlyphs">0</text>
<text x="1213.40" y="329" font-size="11.6" fill="#A8A8A8" stroke="#A8A8A8" stroke-width="0.2" textLength="12.30" lengthAdjust="spacingAndGlyphs">H4</text>
<text x="1213.40" y="339" font-size="11.6" fill="#A8A8A8" stroke="#A8A8A8" stroke-width="0.2" textLength="10.90" lengthAdjust="spacingAndGlyphs">H1</text>
<text x="1209.80" y="348" font-size="11.6" fill="#A8A8A8" stroke="#A8A8A8" stroke-width="0.2" textLength="18.10" lengthAdjust="spacingAndGlyphs">M30</text>
<text x="1209.80" y="357" font-size="11.6" fill="#A8A8A8" stroke="#A8A8A8" stroke-width="0.2" textLength="18.50" lengthAdjust="spacingAndGlyphs">M15</text>
<rect x="1317" y="365" width="1" height="1" fill="#000"/>
<text x="1320.20" y="374" font-size="10.2" fill="#000" stroke="#000" stroke-width="0.2" textLength="27.70" lengthAdjust="spacingAndGlyphs">0.0109</text>
<rect x="1317" y="420" width="1" height="1" fill="#000"/>
<text x="1320.20" y="424" font-size="10.2" fill="#000" stroke="#000" stroke-width="0.2" textLength="17.70" lengthAdjust="spacingAndGlyphs">0.00</text>
<rect x="1317" y="480" width="1" height="1" fill="#000"/>
<text x="1320.20" y="478" font-size="10.2" fill="#000" stroke="#000" stroke-width="0.2" textLength="30.70" lengthAdjust="spacingAndGlyphs">-0.0119</text>
<rect x="1317" y="485" width="1" height="1" fill="#000"/>
<text x="1320.20" y="494" font-size="10.2" fill="#000" stroke="#000" stroke-width="0.2" textLength="27.70" lengthAdjust="spacingAndGlyphs">0.0015</text>
<rect x="1317" y="495" width="1" height="1" fill="#000"/>
<text x="1320.20" y="499" font-size="10.2" fill="#000" stroke="#000" stroke-width="0.2" textLength="17.70" lengthAdjust="spacingAndGlyphs">0.00</text>
<rect x="1317" y="599" width="1" height="1" fill="#000"/>
<text x="1320.20" y="597" font-size="10.2" fill="#000" stroke="#000" stroke-width="0.2" textLength="30.70" lengthAdjust="spacingAndGlyphs">-0.0156</text>
<text x="18.10" y="14" font-size="10.2" fill="#000" stroke="#000" stroke-width="0.2" textLength="60.80" lengthAdjust="spacingAndGlyphs">GBPAUD,M15</text>
<text x="85.40" y="14" font-size="10.2" fill="#000" stroke="#000" stroke-width="0.2" textLength="140.30" lengthAdjust="spacingAndGlyphs">1.83949 1.83949 1.83756 1.83852</text>
<polygon points="6,9 13,9 9.5,13" fill="#000"/>
<text x="7.20" y="325" font-size="10.2" fill="#000" stroke="#000" stroke-width="0.2" textLength="167.00" lengthAdjust="spacingAndGlyphs">4TF STLM 1.0000 2.0000 3.0000 4.0000</text>
<text x="7.40" y="376" font-size="10.2" fill="#000" stroke="#000" stroke-width="0.2" textLength="112.40" lengthAdjust="spacingAndGlyphs">M15 STLM -0.0015 -0.0015</text>
<text x="7.20" y="496" font-size="10.2" fill="#000" stroke="#000" stroke-width="0.2" textLength="106.40" lengthAdjust="spacingAndGlyphs">M30 STLM 0.0007 0.0007</text>
<rect x="12" y="23" width="14" height="16" fill="#333"/>
<rect x="11" y="24" width="16" height="14" fill="#333"/>
<text x="14.80" y="35" font-size="8.8" fill="#d8d8d8" stroke="#d8d8d8" stroke-width="0.2" textLength="6.30" lengthAdjust="spacingAndGlyphs">V</text>
<rect x="3" y="601" width="1" height="3" fill="#000"/>
<text x="2.50" y="613" font-size="10.2" fill="#000" stroke="#000" stroke-width="0.2" textLength="54.50" lengthAdjust="spacingAndGlyphs">29 May 2020</text>
<rect x="67" y="601" width="1" height="3" fill="#000"/>
<text x="66.50" y="613" font-size="10.2" fill="#000" stroke="#000" stroke-width="0.2" textLength="57.50" lengthAdjust="spacingAndGlyphs">29 May 14:45</text>
<rect x="131" y="601" width="1" height="3" fill="#000"/>
<text x="130.50" y="613" font-size="10.2" fill="#000" stroke="#000" stroke-width="0.2" textLength="57.50" lengthAdjust="spacingAndGlyphs">29 May 16:45</text>
<rect x="195" y="601" width="1" height="3" fill="#000"/>
<text x="194.50" y="613" font-size="10.2" fill="#000" stroke="#000" stroke-width="0.2" textLength="57.50" lengthAdjust="spacingAndGlyphs">29 May 18:45</text>
<rect x="259" y="601" width="1" height="3" fill="#000"/>
<text x="258.50" y="613" font-size="10.2" fill="#000" stroke="#000" stroke-width="0.2" textLength="57.50" lengthAdjust="spacingAndGlyphs">29 May 20:45</text>
<rect x="323" y="601" width="1" height="3" fill="#000"/>
<text x="322.50" y="613" font-size="10.2" fill="#000" stroke="#000" stroke-width="0.2" textLength="57.50" lengthAdjust="spacingAndGlyphs">29 May 22:45</text>
<rect x="387" y="601" width="1" height="3" fill="#000"/>
<text x="386.50" y="613" font-size="10.2" fill="#000" stroke="#000" stroke-width="0.2" textLength="47.00" lengthAdjust="spacingAndGlyphs">1 Jun 01:45</text>
<rect x="451" y="601" width="1" height="3" fill="#000"/>
<text x="450.50" y="613" font-size="10.2" fill="#000" stroke="#000" stroke-width="0.2" textLength="47.00" lengthAdjust="spacingAndGlyphs">1 Jun 03:45</text>
<rect x="515" y="601" width="1" height="3" fill="#000"/>
<text x="514.50" y="613" font-size="10.2" fill="#000" stroke="#000" stroke-width="0.2" textLength="47.00" lengthAdjust="spacingAndGlyphs">1 Jun 05:45</text>
<rect x="579" y="601" width="1" height="3" fill="#000"/>
<text x="578.50" y="613" font-size="10.2" fill="#000" stroke="#000" stroke-width="0.2" textLength="47.00" lengthAdjust="spacingAndGlyphs">1 Jun 07:45</text>
<rect x="643" y="601" width="1" height="3" fill="#000"/>
<text x="642.50" y="613" font-size="10.2" fill="#000" stroke="#000" stroke-width="0.2" textLength="47.00" lengthAdjust="spacingAndGlyphs">1 Jun 09:45</text>
<rect x="707" y="601" width="1" height="3" fill="#000"/>
<text x="706.50" y="613" font-size="10.2" fill="#000" stroke="#000" stroke-width="0.2" textLength="47.00" lengthAdjust="spacingAndGlyphs">1 Jun 11:45</text>
<rect x="771" y="601" width="1" height="3" fill="#000"/>
<text x="770.50" y="613" font-size="10.2" fill="#000" stroke="#000" stroke-width="0.2" textLength="47.00" lengthAdjust="spacingAndGlyphs">1 Jun 13:45</text>
<rect x="835" y="601" width="1" height="3" fill="#000"/>
<text x="834.50" y="613" font-size="10.2" fill="#000" stroke="#000" stroke-width="0.2" textLength="47.00" lengthAdjust="spacingAndGlyphs">1 Jun 15:45</text>
<rect x="899" y="601" width="1" height="3" fill="#000"/>
<text x="898.50" y="613" font-size="10.2" fill="#000" stroke="#000" stroke-width="0.2" textLength="47.00" lengthAdjust="spacingAndGlyphs">1 Jun 17:45</text>
<rect x="963" y="601" width="1" height="3" fill="#000"/>
<text x="962.50" y="613" font-size="10.2" fill="#000" stroke="#000" stroke-width="0.2" textLength="47.00" lengthAdjust="spacingAndGlyphs">1 Jun 19:45</text>
<rect x="1027" y="601" width="1" height="3" fill="#000"/>
<text x="1026.50" y="613" font-size="10.2" fill="#000" stroke="#000" stroke-width="0.2" textLength="47.00" lengthAdjust="spacingAndGlyphs">1 Jun 21:45</text>
<rect x="1091" y="601" width="1" height="3" fill="#000"/>
<text x="1090.50" y="613" font-size="10.2" fill="#000" stroke="#000" stroke-width="0.2" textLength="47.00" lengthAdjust="spacingAndGlyphs">1 Jun 23:45</text>
<rect x="1155" y="601" width="1" height="3" fill="#000"/>
<text x="1154.50" y="613" font-size="10.2" fill="#000" stroke="#000" stroke-width="0.2" textLength="47.00" lengthAdjust="spacingAndGlyphs">2 Jun 01:45</text>
<rect x="387" y="604" width="80" height="11" fill="#646464"/>
<text x="391.00" y="613" font-size="10.2" fill="#fff" textLength="72.00" lengthAdjust="spacingAndGlyphs">2020.06.01 03:00</text>
<rect x="675" y="604" width="80" height="11" fill="#646464"/>
<text x="679.00" y="613" font-size="10.2" fill="#fff" textLength="72.00" lengthAdjust="spacingAndGlyphs">2020.06.01 12:00</text>
<rect x="859" y="604" width="80" height="11" fill="#646464"/>
<text x="863.00" y="613" font-size="10.2" fill="#fff" textLength="72.00" lengthAdjust="spacingAndGlyphs">2020.06.01 17:45</text></svg>
</body></html>
